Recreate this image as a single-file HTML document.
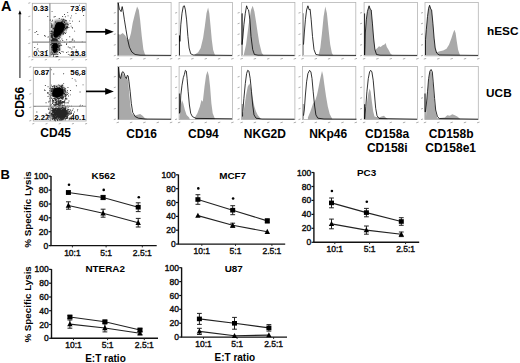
<!DOCTYPE html>
<html><head><meta charset="utf-8"><style>
html,body{margin:0;padding:0;background:#fff;}
body{width:520px;height:363px;overflow:hidden;}
svg{display:block;font-family:"Liberation Sans", sans-serif;}
</style></head><body>
<svg width="520" height="363" viewBox="0 0 520 363">
<rect width="520" height="363" fill="#fff"/>
<text x="1" y="10.9" font-size="14.5" font-weight="bold" text-anchor="start" fill="#000" >A</text>
<text x="0.5" y="178.6" font-size="13" font-weight="bold" text-anchor="start" fill="#000" >B</text>
<line x1="19.9" y1="78" x2="19.9" y2="13" stroke="#555" stroke-width="1.4"/>
<polygon points="19.9,10.2 18.3,14.2 21.5,14.2" fill="#000"/>
<text x="0" y="0" font-size="12" font-weight="bold" text-anchor="start" fill="#000" transform="translate(24,117.5) rotate(-90)">CD56</text>
<text x="40.3" y="137" font-size="12" font-weight="bold" text-anchor="start" fill="#000" >CD45</text>
<defs><filter id="bl" x="-20%" y="-20%" width="140%" height="140%"><feGaussianBlur stdDeviation="0.7"/></filter><filter id="bl2" x="-20%" y="-20%" width="140%" height="140%"><feGaussianBlur stdDeviation="1.2"/></filter></defs>
<line x1="28.3" y1="57" x2="30.3" y2="56.4" stroke="#999" stroke-width="0.8"/><line x1="31.3" y1="60" x2="33.3" y2="59.4" stroke="#999" stroke-width="0.8"/><line x1="28.3" y1="43.6" x2="30.3" y2="43" stroke="#999" stroke-width="0.8"/><line x1="44.8" y1="60" x2="46.8" y2="59.4" stroke="#999" stroke-width="0.8"/><line x1="28.3" y1="30.1" x2="30.3" y2="29.5" stroke="#999" stroke-width="0.8"/><line x1="58.2" y1="60" x2="60.2" y2="59.4" stroke="#999" stroke-width="0.8"/><line x1="28.3" y1="16.7" x2="30.3" y2="16.1" stroke="#999" stroke-width="0.8"/><line x1="71.6" y1="60" x2="73.6" y2="59.4" stroke="#999" stroke-width="0.8"/><line x1="28.3" y1="3.3" x2="30.3" y2="2.7" stroke="#999" stroke-width="0.8"/><line x1="85.1" y1="60" x2="87.1" y2="59.4" stroke="#999" stroke-width="0.8"/>
<rect x="32.3" y="3.3" width="53.8" height="53.7" fill="#fff" stroke="#aaa" stroke-width="0.8"/>
<polygon points="55,20 63,19.5 67.5,22.5 67,28 63,34 58,39.5 56,41 52,40 51.5,33 52.5,26" fill="#000" fill-opacity="0.45" filter="url(#bl2)"/>
<polygon points="51.5,41 59.5,42 60,48 58,54 52,55 51,48" fill="#000" fill-opacity="0.4" filter="url(#bl2)"/>
<polygon points="56.6,22.6 62.1,21.9 64.6,24.2 64.6,27.3 62.9,30.9 59.8,34.8 57,36.8 55.3,37.8 54,37 53.6,33.4 54.2,28.5 55.2,25" fill="#000" filter="url(#bl)"/>
<polygon points="53.4,43.2 57.4,43.6 57.9,46.7 56.9,50.3 55.3,52.8 53.9,53.2 52.9,50.3 52.6,45.5" fill="#000" filter="url(#bl)"/>
<path d="M58.4 32.6h.9v.9h-.9zM58.6 28.9h.9v.9h-.9zM55.6 31.6h.9v.9h-.9zM64.2 27.7h.9v.9h-.9zM63.9 27.2h.9v.9h-.9zM61.2 29h.9v.9h-.9zM52.5 38.8h.9v.9h-.9zM61.6 30h.9v.9h-.9zM52.4 27.4h.9v.9h-.9zM55.8 30.4h.9v.9h-.9zM60.8 28.3h.9v.9h-.9zM61.7 25h.9v.9h-.9zM60.8 30.2h.9v.9h-.9zM56.7 39.2h.9v.9h-.9zM61.8 32.9h.9v.9h-.9zM56.9 28.3h.9v.9h-.9zM58.1 30.2h.9v.9h-.9zM62.2 28.5h.9v.9h-.9zM57.6 26.8h.9v.9h-.9zM57.3 36.6h.9v.9h-.9zM56.1 33.2h.9v.9h-.9zM61.3 21.5h.9v.9h-.9zM59.7 35.1h.9v.9h-.9zM51 34.7h.9v.9h-.9zM59.1 26.3h.9v.9h-.9zM61.6 27.6h.9v.9h-.9zM53.3 38h.9v.9h-.9zM62.3 31.5h.9v.9h-.9zM65.6 26.3h.9v.9h-.9zM60 23.4h.9v.9h-.9zM62.1 24.8h.9v.9h-.9zM57.6 25.4h.9v.9h-.9zM55.4 30.4h.9v.9h-.9zM64.9 16.3h.9v.9h-.9zM53.4 35.4h.9v.9h-.9zM65.6 27.3h.9v.9h-.9zM51.5 24.7h.9v.9h-.9zM61 25.1h.9v.9h-.9zM54.8 37.5h.9v.9h-.9zM64.1 26.6h.9v.9h-.9zM60.5 30.6h.9v.9h-.9zM66.2 27h.9v.9h-.9zM61.7 30.2h.9v.9h-.9zM52.9 40.3h.9v.9h-.9zM63.5 28.7h.9v.9h-.9zM51.2 33.2h.9v.9h-.9zM63 18.8h.9v.9h-.9zM58.7 34.6h.9v.9h-.9zM54 40.9h.9v.9h-.9zM61.8 27h.9v.9h-.9zM60.9 31.3h.9v.9h-.9zM60 34.1h.9v.9h-.9zM56.7 29.9h.9v.9h-.9zM63.9 26.2h.9v.9h-.9zM55.8 36.6h.9v.9h-.9zM65.7 22.7h.9v.9h-.9zM53.7 33.5h.9v.9h-.9zM58.9 28.7h.9v.9h-.9zM65.4 20.3h.9v.9h-.9zM64.8 19.8h.9v.9h-.9zM56.2 34.9h.9v.9h-.9zM64.2 29.6h.9v.9h-.9zM60.9 29h.9v.9h-.9zM60.1 31.5h.9v.9h-.9zM58.8 31.3h.9v.9h-.9zM61.9 27.6h.9v.9h-.9zM62.7 29.5h.9v.9h-.9zM67.9 24.3h.9v.9h-.9zM57.7 29.3h.9v.9h-.9zM59.4 33.6h.9v.9h-.9zM58.1 32.3h.9v.9h-.9zM67.2 12.2h.9v.9h-.9zM54.8 34.3h.9v.9h-.9zM61.2 29.2h.9v.9h-.9zM57.7 33.8h.9v.9h-.9zM60.7 26.3h.9v.9h-.9zM69.7 23h.9v.9h-.9zM57.2 30.9h.9v.9h-.9zM58.6 30h.9v.9h-.9zM48 36.4h.9v.9h-.9zM63.7 21h.9v.9h-.9zM59.2 33.9h.9v.9h-.9zM63.1 33.2h.9v.9h-.9zM52.4 33.6h.9v.9h-.9zM58.1 33.4h.9v.9h-.9zM64.1 14.1h.9v.9h-.9zM64.1 19.5h.9v.9h-.9zM62.4 20.7h.9v.9h-.9zM60.2 34.2h.9v.9h-.9zM58.9 30.8h.9v.9h-.9zM62.8 27.5h.9v.9h-.9zM59.1 36.5h.9v.9h-.9zM63.9 24.7h.9v.9h-.9zM71 15.4h.9v.9h-.9zM63.3 25.3h.9v.9h-.9zM60.1 32.2h.9v.9h-.9zM60.4 31.6h.9v.9h-.9zM53.1 27.9h.9v.9h-.9zM62.1 23.2h.9v.9h-.9zM55.2 26.4h.9v.9h-.9zM64.8 28.6h.9v.9h-.9zM65.7 20.5h.9v.9h-.9zM59.5 24.5h.9v.9h-.9zM62.7 34h.9v.9h-.9zM55.8 39.3h.9v.9h-.9zM63.6 25.5h.9v.9h-.9zM51.2 42.2h.9v.9h-.9zM59.1 27.2h.9v.9h-.9zM61.2 30h.9v.9h-.9zM65.8 20.1h.9v.9h-.9zM64.3 32.3h.9v.9h-.9zM65.6 23.9h.9v.9h-.9zM56.4 36.4h.9v.9h-.9zM60 29.7h.9v.9h-.9zM65.5 23.6h.9v.9h-.9zM49.9 35.4h.9v.9h-.9zM51.7 39.2h.9v.9h-.9zM60.8 25.8h.9v.9h-.9zM59.5 33.2h.9v.9h-.9zM59.8 35.1h.9v.9h-.9zM59.2 34.3h.9v.9h-.9zM65.8 31.7h.9v.9h-.9zM56.7 35.6h.9v.9h-.9zM51.6 30.9h.9v.9h-.9zM51.3 40.7h.9v.9h-.9zM54.3 33.5h.9v.9h-.9zM58.7 30h.9v.9h-.9zM57 32.5h.9v.9h-.9zM67 23.8h.9v.9h-.9zM61.7 32.2h.9v.9h-.9zM58.7 24.6h.9v.9h-.9zM57.2 36.1h.9v.9h-.9zM52.6 32.3h.9v.9h-.9zM63.7 29.7h.9v.9h-.9zM59.5 33h.9v.9h-.9zM60.2 23.8h.9v.9h-.9zM52.9 31.8h.9v.9h-.9zM63.4 24h.9v.9h-.9zM55.7 29.1h.9v.9h-.9zM53.1 34h.9v.9h-.9zM54.5 35h.9v.9h-.9zM49.6 38.7h.9v.9h-.9zM56.8 23.1h.9v.9h-.9zM62.5 25.9h.9v.9h-.9zM50.1 33h.9v.9h-.9zM60.7 26.5h.9v.9h-.9zM62.8 30.2h.9v.9h-.9zM62.3 28.7h.9v.9h-.9zM65.1 28h.9v.9h-.9zM61.4 18.8h.9v.9h-.9zM63.3 32.3h.9v.9h-.9zM58.3 28.4h.9v.9h-.9zM67.6 15.4h.9v.9h-.9zM61.5 38.6h.9v.9h-.9zM55.6 35.6h.9v.9h-.9zM67.4 22.7h.9v.9h-.9zM61.9 31.6h.9v.9h-.9zM55.7 32.1h.9v.9h-.9zM60.7 32.2h.9v.9h-.9zM59.4 28.8h.9v.9h-.9zM55.2 31.3h.9v.9h-.9zM63.2 27h.9v.9h-.9zM55.9 28.6h.9v.9h-.9zM70.7 25.7h.9v.9h-.9zM62.2 16h.9v.9h-.9zM62.1 29.6h.9v.9h-.9zM66.6 25.8h.9v.9h-.9zM59.2 32h.9v.9h-.9zM51.3 40.5h.9v.9h-.9zM60.9 25.3h.9v.9h-.9zM65.1 33.1h.9v.9h-.9zM53.6 31.2h.9v.9h-.9zM60.7 29.3h.9v.9h-.9zM57.8 26.5h.9v.9h-.9zM68.4 27.1h.9v.9h-.9zM54.5 27.5h.9v.9h-.9zM66.7 28.2h.9v.9h-.9zM67.1 27.1h.9v.9h-.9zM55.8 33.5h.9v.9h-.9zM50.4 33.3h.9v.9h-.9zM59.3 32h.9v.9h-.9zM56.4 31.4h.9v.9h-.9zM61.4 29.6h.9v.9h-.9zM62.2 28.3h.9v.9h-.9zM58.1 34h.9v.9h-.9zM59.7 25.7h.9v.9h-.9zM56.9 31.6h.9v.9h-.9zM59 30.6h.9v.9h-.9zM59.5 30.3h.9v.9h-.9zM58.9 24.4h.9v.9h-.9zM61.3 32.7h.9v.9h-.9zM61.3 27.2h.9v.9h-.9zM61.4 23.8h.9v.9h-.9zM51.5 36h.9v.9h-.9zM55.6 35.8h.9v.9h-.9zM54.9 21.5h.9v.9h-.9zM55.1 39.9h.9v.9h-.9zM57.9 24.7h.9v.9h-.9zM56.3 34.3h.9v.9h-.9zM61.6 28.6h.9v.9h-.9zM65.7 27.7h.9v.9h-.9zM59.4 32.2h.9v.9h-.9zM66.4 28.3h.9v.9h-.9zM63.8 21.4h.9v.9h-.9zM58.9 33.2h.9v.9h-.9zM58.3 35.2h.9v.9h-.9zM62 31.5h.9v.9h-.9zM58.6 41.4h.9v.9h-.9zM64.7 24.5h.9v.9h-.9zM59.9 40.6h.9v.9h-.9zM58.1 34.5h.9v.9h-.9zM63.6 26.3h.9v.9h-.9zM54.6 34.2h.9v.9h-.9zM61 33.3h.9v.9h-.9zM62.8 27h.9v.9h-.9zM63.1 29.1h.9v.9h-.9zM60.4 29.1h.9v.9h-.9zM58.5 33.3h.9v.9h-.9zM55.1 30.2h.9v.9h-.9zM59.5 23h.9v.9h-.9zM57.7 22.1h.9v.9h-.9zM56.6 34.3h.9v.9h-.9zM61.9 27.4h.9v.9h-.9zM58.5 24h.9v.9h-.9zM67.2 25.7h.9v.9h-.9zM64.1 22h.9v.9h-.9zM58.7 22.1h.9v.9h-.9zM62.8 31h.9v.9h-.9zM51.5 35.5h.9v.9h-.9zM62.1 19.7h.9v.9h-.9zM51.8 30.8h.9v.9h-.9zM56.9 25.4h.9v.9h-.9zM59.6 30.5h.9v.9h-.9zM62.2 30.5h.9v.9h-.9zM65.8 29.7h.9v.9h-.9zM54 31.6h.9v.9h-.9zM55 28.3h.9v.9h-.9zM59.2 29.8h.9v.9h-.9zM61.6 20.9h.9v.9h-.9zM54.3 33.5h.9v.9h-.9zM58.7 28.8h.9v.9h-.9zM59.2 26.4h.9v.9h-.9zM62.4 28.7h.9v.9h-.9zM59.1 26.8h.9v.9h-.9zM58.8 18.1h.9v.9h-.9zM55.4 32.9h.9v.9h-.9zM53.2 35.3h.9v.9h-.9zM60.1 23h.9v.9h-.9zM58.4 28.9h.9v.9h-.9zM61.4 30.7h.9v.9h-.9zM59.3 25.9h.9v.9h-.9zM58.9 29.7h.9v.9h-.9zM62.6 28.4h.9v.9h-.9zM56.5 25.9h.9v.9h-.9zM57.9 27.5h.9v.9h-.9zM54.8 32.7h.9v.9h-.9zM57.4 31.6h.9v.9h-.9zM61.7 26h.9v.9h-.9zM69.3 20.4h.9v.9h-.9zM64.1 26.4h.9v.9h-.9zM57.9 38h.9v.9h-.9zM53 48.5h.9v.9h-.9zM55.8 52.6h.9v.9h-.9zM57 51.3h.9v.9h-.9zM56.3 46.9h.9v.9h-.9zM56.3 43.2h.9v.9h-.9zM58.1 43.4h.9v.9h-.9zM55.6 56h.9v.9h-.9zM54.4 47.6h.9v.9h-.9zM58 47.6h.9v.9h-.9zM52.9 48.5h.9v.9h-.9zM56.5 50.3h.9v.9h-.9zM53 54.5h.9v.9h-.9zM59.3 47.6h.9v.9h-.9zM55.7 45.8h.9v.9h-.9zM58.7 44.7h.9v.9h-.9zM56.8 45.6h.9v.9h-.9zM53.2 50.4h.9v.9h-.9zM58.5 47.5h.9v.9h-.9zM53.2 50.7h.9v.9h-.9zM54.9 48.7h.9v.9h-.9zM59 52h.9v.9h-.9zM55 50.6h.9v.9h-.9zM53.3 47.3h.9v.9h-.9zM50.5 54.6h.9v.9h-.9zM58.6 42.6h.9v.9h-.9zM51.1 41h.9v.9h-.9zM58.1 45.7h.9v.9h-.9zM54.8 46.2h.9v.9h-.9zM54.7 43.1h.9v.9h-.9zM55.1 41.7h.9v.9h-.9zM54.8 48.7h.9v.9h-.9zM56.2 46.6h.9v.9h-.9zM52.7 48.1h.9v.9h-.9zM53.7 53.8h.9v.9h-.9zM57 47h.9v.9h-.9zM53.8 44.7h.9v.9h-.9zM52.6 46.1h.9v.9h-.9zM55.8 49.6h.9v.9h-.9zM56.5 55.9h.9v.9h-.9zM53.2 47.6h.9v.9h-.9zM62.3 40h.9v.9h-.9zM53.6 48.2h.9v.9h-.9zM55.4 49.1h.9v.9h-.9zM54.4 49h.9v.9h-.9zM55.1 50.6h.9v.9h-.9zM50.1 44h.9v.9h-.9zM55 43.4h.9v.9h-.9zM52.3 50h.9v.9h-.9zM53.3 50h.9v.9h-.9zM56.9 48.7h.9v.9h-.9zM56.3 47.1h.9v.9h-.9zM51.3 47.4h.9v.9h-.9zM56.2 45.4h.9v.9h-.9zM54.7 50.5h.9v.9h-.9zM52.7 50.1h.9v.9h-.9zM59.8 45.3h.9v.9h-.9zM55.4 46.9h.9v.9h-.9zM59 48.8h.9v.9h-.9zM57.3 44.7h.9v.9h-.9zM55 47.5h.9v.9h-.9zM50.4 53.3h.9v.9h-.9zM57.3 40.5h.9v.9h-.9zM56.9 47h.9v.9h-.9zM56.2 49h.9v.9h-.9zM51.1 46.7h.9v.9h-.9zM58.9 45.2h.9v.9h-.9zM52.3 42.1h.9v.9h-.9zM51.8 48.8h.9v.9h-.9zM59.4 49.2h.9v.9h-.9zM55.6 56.4h.9v.9h-.9zM53.6 44.8h.9v.9h-.9zM56.4 49.7h.9v.9h-.9zM52.4 42.8h.9v.9h-.9zM55.8 48.5h.9v.9h-.9zM51.6 46.7h.9v.9h-.9zM53.6 49.3h.9v.9h-.9zM54.7 47.2h.9v.9h-.9zM54.1 51.7h.9v.9h-.9zM58.6 46h.9v.9h-.9zM57.2 44.5h.9v.9h-.9zM55.2 50.5h.9v.9h-.9zM58.9 46h.9v.9h-.9zM54.8 48.3h.9v.9h-.9zM51.1 47.6h.9v.9h-.9zM53.2 49h.9v.9h-.9zM52.1 39.6h.9v.9h-.9zM55.1 48.5h.9v.9h-.9zM53.6 51.1h.9v.9h-.9zM54.3 45.1h.9v.9h-.9zM56.2 41.2h.9v.9h-.9zM53.2 47.4h.9v.9h-.9zM57.2 46.8h.9v.9h-.9zM55.8 44.9h.9v.9h-.9zM55.8 54.2h.9v.9h-.9zM53.3 47.6h.9v.9h-.9zM55.5 51.6h.9v.9h-.9zM51.8 39.1h.9v.9h-.9zM56.6 50.7h.9v.9h-.9zM55.5 48.5h.9v.9h-.9zM57.4 49h.9v.9h-.9zM59.3 42.5h.9v.9h-.9zM54 33.7h.9v.9h-.9zM57.1 46h.9v.9h-.9zM57.4 56.1h.9v.9h-.9zM55 46.5h.9v.9h-.9zM53.7 44.1h.9v.9h-.9zM53.4 50.1h.9v.9h-.9zM55.1 47.8h.9v.9h-.9zM54.5 51.2h.9v.9h-.9zM56.3 46.9h.9v.9h-.9zM56.7 46.9h.9v.9h-.9zM52 53.3h.9v.9h-.9zM56.2 43.7h.9v.9h-.9zM57.8 48.9h.9v.9h-.9zM50.9 53.9h.9v.9h-.9zM55.9 51.1h.9v.9h-.9zM55.5 46.9h.9v.9h-.9zM51 51.4h.9v.9h-.9zM55.1 46.4h.9v.9h-.9zM55.9 47.8h.9v.9h-.9zM56.8 46h.9v.9h-.9zM54.9 38.9h.9v.9h-.9zM53.9 50.2h.9v.9h-.9zM58.5 46h.9v.9h-.9zM54.7 53.8h.9v.9h-.9zM54.2 50.4h.9v.9h-.9zM59.4 47.7h.9v.9h-.9zM58.2 44.7h.9v.9h-.9zM55.5 47.2h.9v.9h-.9zM55.3 52h.9v.9h-.9zM61.2 44.8h.9v.9h-.9zM53.5 49.5h.9v.9h-.9zM52.3 49.5h.9v.9h-.9zM56.5 46.4h.9v.9h-.9zM56.4 41.3h.9v.9h-.9zM55.9 37.1h.9v.9h-.9zM53.2 39.3h.9v.9h-.9zM53.8 42.4h.9v.9h-.9zM54.6 39.6h.9v.9h-.9zM55.5 44h.9v.9h-.9zM54.5 41.3h.9v.9h-.9zM56.7 41.1h.9v.9h-.9zM52.2 46h.9v.9h-.9zM58.5 36.1h.9v.9h-.9zM54.4 41.4h.9v.9h-.9zM56.2 42h.9v.9h-.9zM54 38.2h.9v.9h-.9zM54.7 42.8h.9v.9h-.9zM52.5 38.2h.9v.9h-.9zM54.5 36.2h.9v.9h-.9zM54 39.5h.9v.9h-.9zM55.3 39h.9v.9h-.9zM52.9 39.6h.9v.9h-.9zM54.4 39h.9v.9h-.9zM54.5 42.2h.9v.9h-.9zM56.6 44.3h.9v.9h-.9zM53.1 39.6h.9v.9h-.9zM50 44.7h.9v.9h-.9zM53.2 40.4h.9v.9h-.9zM55.4 37.5h.9v.9h-.9zM55.3 40.4h.9v.9h-.9zM51.2 41.1h.9v.9h-.9zM56.7 36.4h.9v.9h-.9zM56 41h.9v.9h-.9zM55.4 41.5h.9v.9h-.9zM56.8 40h.9v.9h-.9zM56.1 39.6h.9v.9h-.9zM55.8 38.7h.9v.9h-.9zM54.3 44.3h.9v.9h-.9zM55.3 40.2h.9v.9h-.9zM52.4 38.8h.9v.9h-.9zM54.8 42.6h.9v.9h-.9zM55.3 41.7h.9v.9h-.9zM54.4 43.5h.9v.9h-.9zM53.8 39.3h.9v.9h-.9zM56.1 40.6h.9v.9h-.9zM54 39.2h.9v.9h-.9zM54 41.9h.9v.9h-.9zM55.1 37.8h.9v.9h-.9zM55.3 40.9h.9v.9h-.9zM52.7 42.2h.9v.9h-.9zM54 39.8h.9v.9h-.9zM55.9 43.4h.9v.9h-.9zM53.3 41.5h.9v.9h-.9zM52.9 45.6h.9v.9h-.9zM53.6 43.1h.9v.9h-.9zM53.3 42.3h.9v.9h-.9zM58.5 34.9h.9v.9h-.9zM53.7 41.6h.9v.9h-.9zM54.3 39h.9v.9h-.9zM58.4 40.7h.9v.9h-.9zM51.5 42.4h.9v.9h-.9zM51.4 43h.9v.9h-.9zM53.5 40.8h.9v.9h-.9zM56.8 40.8h.9v.9h-.9zM52 36.8h.9v.9h-.9zM56.6 42.1h.9v.9h-.9zM53 42.4h.9v.9h-.9zM55.4 41.9h.9v.9h-.9zM50.4 39.8h.9v.9h-.9zM56.1 42.1h.9v.9h-.9zM56.1 35.1h.9v.9h-.9zM54.8 41.6h.9v.9h-.9zM59.1 38.4h.9v.9h-.9zM53.9 40.6h.9v.9h-.9zM56.1 39.5h.9v.9h-.9zM56.6 38.8h.9v.9h-.9zM55 39.3h.9v.9h-.9zM54.8 39h.9v.9h-.9zM51.6 42.9h.9v.9h-.9zM55 39.3h.9v.9h-.9zM54.9 42.7h.9v.9h-.9zM52.7 40.3h.9v.9h-.9zM55.5 41.7h.9v.9h-.9zM53.9 35.9h.9v.9h-.9zM56.7 41.2h.9v.9h-.9zM54.5 39.9h.9v.9h-.9zM55 39.6h.9v.9h-.9zM52.7 38.9h.9v.9h-.9zM53.4 39.2h.9v.9h-.9zM52.4 41.9h.9v.9h-.9zM52.1 42h.9v.9h-.9zM52.7 41.3h.9v.9h-.9zM57 40.9h.9v.9h-.9zM53.2 40.6h.9v.9h-.9zM51.6 24.4h.9v.9h-.9zM50.9 41.5h.9v.9h-.9zM51 40.7h.9v.9h-.9zM52.2 46.9h.9v.9h-.9zM52.4 45.3h.9v.9h-.9zM51.2 39.8h.9v.9h-.9zM51.2 37.2h.9v.9h-.9zM51.3 24.5h.9v.9h-.9zM51.2 39.8h.9v.9h-.9zM50.5 39.8h.9v.9h-.9zM52 38.5h.9v.9h-.9zM53.6 16.5h.9v.9h-.9zM51.3 23.6h.9v.9h-.9zM49 41.2h.9v.9h-.9zM52 37.3h.9v.9h-.9zM52.1 19.8h.9v.9h-.9zM52.4 43.3h.9v.9h-.9zM51.5 34.7h.9v.9h-.9zM52.1 35.6h.9v.9h-.9zM51.7 35.4h.9v.9h-.9zM49.3 39.7h.9v.9h-.9zM51.7 46.8h.9v.9h-.9zM50.6 39.7h.9v.9h-.9zM52.1 41.3h.9v.9h-.9zM50.6 22.7h.9v.9h-.9zM52.4 53.8h.9v.9h-.9zM52.4 47.3h.9v.9h-.9zM50.9 33.6h.9v.9h-.9zM52.4 31.8h.9v.9h-.9zM49.7 31h.9v.9h-.9zM50.8 33.4h.9v.9h-.9zM51.7 33.3h.9v.9h-.9zM52.8 39.3h.9v.9h-.9zM50.4 51.8h.9v.9h-.9zM50.9 42h.9v.9h-.9zM51.5 37.2h.9v.9h-.9zM51.8 33.8h.9v.9h-.9zM49.7 20.1h.9v.9h-.9zM50.2 33.2h.9v.9h-.9zM51.5 40.5h.9v.9h-.9zM52.1 41.1h.9v.9h-.9zM50.7 33.6h.9v.9h-.9zM49.4 38.5h.9v.9h-.9zM52 44.8h.9v.9h-.9zM51.4 38.4h.9v.9h-.9zM52.4 40.1h.9v.9h-.9zM52.2 45.2h.9v.9h-.9zM51.7 51.8h.9v.9h-.9zM50.9 36.8h.9v.9h-.9zM50.7 32.8h.9v.9h-.9zM53.1 55.8h.9v.9h-.9zM51.5 45.1h.9v.9h-.9zM52.7 47.3h.9v.9h-.9zM52.7 28.6h.9v.9h-.9zM50.9 44.1h.9v.9h-.9zM52.9 40.9h.9v.9h-.9zM50.6 36.8h.9v.9h-.9zM66.9 26.6h.9v.9h-.9zM81.8 41.4h.9v.9h-.9zM46.7 50.1h.9v.9h-.9zM36.2 31.1h.9v.9h-.9zM54.7 16.1h.9v.9h-.9zM37 43.7h.9v.9h-.9zM34.6 32.1h.9v.9h-.9zM82 11.3h.9v.9h-.9zM44.2 35h.9v.9h-.9zM59.9 36.7h.9v.9h-.9zM75.5 12.9h.9v.9h-.9zM49.8 19.3h.9v.9h-.9zM36.5 49.4h.9v.9h-.9zM73.9 40.5h.9v.9h-.9zM34.3 47.1h.9v.9h-.9zM72 27.7h.9v.9h-.9zM71.8 27.1h.9v.9h-.9zM45.5 9.4h.9v.9h-.9zM45.8 6h.9v.9h-.9zM51.1 42.2h.9v.9h-.9zM69.5 47.1h.9v.9h-.9zM70.3 17.6h.9v.9h-.9zM62.2 26.2h.9v.9h-.9zM74.2 30.7h.9v.9h-.9zM47.5 36.7h.9v.9h-.9zM83.2 15.1h.9v.9h-.9zM78.9 4.8h.9v.9h-.9zM47.3 16h.9v.9h-.9zM71.9 52.2h.9v.9h-.9zM72.1 20.7h.9v.9h-.9zM78.9 20.8h.9v.9h-.9zM46.2 50.3h.9v.9h-.9zM66.2 39.3h.9v.9h-.9zM67.9 53.9h.9v.9h-.9zM57.9 46.8h.9v.9h-.9zM69.6 47.7h.9v.9h-.9zM56.3 41h.9v.9h-.9zM63.1 19.7h.9v.9h-.9zM44.8 35.8h.9v.9h-.9zM38 50.5h.9v.9h-.9zM41.4 5.4h.9v.9h-.9zM39.4 51.4h.9v.9h-.9zM51.6 11.2h.9v.9h-.9zM35.5 6.1h.9v.9h-.9zM69.3 36.3h.9v.9h-.9zM69.5 41.6h.9v.9h-.9zM37.4 34.1h.9v.9h-.9zM52.5 45.7h.9v.9h-.9zM75.8 49.5h.9v.9h-.9zM37.4 48.3h.9v.9h-.9zM72.9 54.1h.9v.9h-.9zM53.6 41.5h.9v.9h-.9zM53.7 38.6h.9v.9h-.9zM71.3 51.8h.9v.9h-.9zM66.2 52h.9v.9h-.9zM66.2 42.9h.9v.9h-.9zM53.4 39.7h.9v.9h-.9zM69.2 41.5h.9v.9h-.9zM58.7 45.2h.9v.9h-.9zM51.5 42.4h.9v.9h-.9zM57.8 50.2h.9v.9h-.9zM59.8 43.5h.9v.9h-.9zM74.1 46.6h.9v.9h-.9zM71.4 48.5h.9v.9h-.9zM51.7 45h.9v.9h-.9zM61.5 51.1h.9v.9h-.9zM59.3 50h.9v.9h-.9zM63.9 41.7h.9v.9h-.9zM71.7 39.5h.9v.9h-.9zM70.7 40.9h.9v.9h-.9zM51 41.4h.9v.9h-.9zM69.3 54.6h.9v.9h-.9zM51.1 46.3h.9v.9h-.9zM62.8 51.5h.9v.9h-.9zM55.4 46.4h.9v.9h-.9zM59.3 52.1h.9v.9h-.9zM57.3 54h.9v.9h-.9zM57.8 41.7h.9v.9h-.9zM67.8 46.5h.9v.9h-.9zM53.6 48.8h.9v.9h-.9zM52.9 51.4h.9v.9h-.9zM67.7 51.4h.9v.9h-.9zM66.1 44h.9v.9h-.9zM60.6 44.7h.9v.9h-.9zM72.4 39.5h.9v.9h-.9zM72.3 38.4h.9v.9h-.9zM55.9 42.5h.9v.9h-.9zM72.6 46.5h.9v.9h-.9zM60.1 53h.9v.9h-.9zM56.6 45.8h.9v.9h-.9zM51.8 46.4h.9v.9h-.9zM52.4 42.6h.9v.9h-.9zM51.4 31.4h.9v.9h-.9zM50.9 49.5h.9v.9h-.9zM52.2 46h.9v.9h-.9zM50.9 35.4h.9v.9h-.9zM52.4 40.3h.9v.9h-.9zM50.8 36.2h.9v.9h-.9zM52.7 28.3h.9v.9h-.9zM51 30.6h.9v.9h-.9zM52.3 49.5h.9v.9h-.9zM50.9 25.5h.9v.9h-.9zM51.1 31.4h.9v.9h-.9zM51.8 25.6h.9v.9h-.9zM51.3 26.6h.9v.9h-.9zM52.9 45.5h.9v.9h-.9zM50.8 53.7h.9v.9h-.9zM50.8 33.4h.9v.9h-.9zM53 47.8h.9v.9h-.9zM52.3 35.2h.9v.9h-.9zM51 42.3h.9v.9h-.9zM50.8 27.2h.9v.9h-.9zM51.5 21.2h.9v.9h-.9zM51.5 47.7h.9v.9h-.9zM52.2 37.5h.9v.9h-.9z" fill="#000" fill-opacity="0.8"/>
<line x1="49.9" y1="3.3" x2="49.9" y2="57" stroke="#888" stroke-width="1.1"/>
<line x1="32.3" y1="42.1" x2="86.1" y2="42.1" stroke="#888" stroke-width="1.1"/>
<text x="33.2" y="10.6" font-size="7.8" font-weight="bold" text-anchor="start" fill="#000" >0.33</text>
<text x="85.5" y="10.6" font-size="7.8" font-weight="bold" text-anchor="end" fill="#000" >73.6</text>
<text x="33.2" y="55.8" font-size="7.8" font-weight="bold" text-anchor="start" fill="#000" >0.31</text>
<text x="85.5" y="55.8" font-size="7.8" font-weight="bold" text-anchor="end" fill="#000" >25.8</text>
<line x1="29.3" y1="121" x2="31.3" y2="120.4" stroke="#999" stroke-width="0.8"/><line x1="32.3" y1="124" x2="34.3" y2="123.4" stroke="#999" stroke-width="0.8"/><line x1="29.3" y1="107.6" x2="31.3" y2="107" stroke="#999" stroke-width="0.8"/><line x1="45.5" y1="124" x2="47.5" y2="123.4" stroke="#999" stroke-width="0.8"/><line x1="29.3" y1="94.2" x2="31.3" y2="93.6" stroke="#999" stroke-width="0.8"/><line x1="58.7" y1="124" x2="60.7" y2="123.4" stroke="#999" stroke-width="0.8"/><line x1="29.3" y1="80.7" x2="31.3" y2="80.1" stroke="#999" stroke-width="0.8"/><line x1="71.9" y1="124" x2="73.9" y2="123.4" stroke="#999" stroke-width="0.8"/><line x1="29.3" y1="67.3" x2="31.3" y2="66.7" stroke="#999" stroke-width="0.8"/><line x1="85.1" y1="124" x2="87.1" y2="123.4" stroke="#999" stroke-width="0.8"/>
<rect x="33.3" y="67.3" width="52.8" height="53.7" fill="#fff" stroke="#aaa" stroke-width="0.8"/>
<polygon points="54,86 61.5,85.5 65.5,88.5 65.5,94 61.5,98 55,98.5 51.5,95.5 51.5,90" fill="#000" fill-opacity="0.35" filter="url(#bl2)"/>
<polygon points="51.5,108 67,108 68,112 67,118.5 51.5,119" fill="#000" fill-opacity="0.3" filter="url(#bl2)"/>
<polygon points="54.9,88 59.8,87.4 63,89.6 63.6,92.5 61.4,96 57.3,97.6 52.8,96 52.2,93.2 53.3,90.2" fill="#000" filter="url(#bl)"/>
<path d="M55 89.6h.9v.9h-.9zM61.4 95.8h.9v.9h-.9zM52.6 95.4h.9v.9h-.9zM61.6 90.4h.9v.9h-.9zM52.1 89.8h.9v.9h-.9zM55.5 93.4h.9v.9h-.9zM56.6 85.6h.9v.9h-.9zM58.9 87.2h.9v.9h-.9zM61.6 88.3h.9v.9h-.9zM55.2 89.5h.9v.9h-.9zM55.8 96.6h.9v.9h-.9zM61.4 94.3h.9v.9h-.9zM59.3 87.2h.9v.9h-.9zM55.9 90.5h.9v.9h-.9zM54.1 94h.9v.9h-.9zM55 90h.9v.9h-.9zM53.8 85.5h.9v.9h-.9zM60.4 96.7h.9v.9h-.9zM58.7 89.1h.9v.9h-.9zM47.2 92.9h.9v.9h-.9zM62.9 93.3h.9v.9h-.9zM61.7 97.2h.9v.9h-.9zM62.5 90.8h.9v.9h-.9zM62.2 94.9h.9v.9h-.9zM51.9 91h.9v.9h-.9zM52.3 91.9h.9v.9h-.9zM60.3 88.8h.9v.9h-.9zM49.8 96.6h.9v.9h-.9zM59.5 97.2h.9v.9h-.9zM52.7 95.8h.9v.9h-.9zM66.3 98.9h.9v.9h-.9zM57.2 93.2h.9v.9h-.9zM57.4 95.6h.9v.9h-.9zM62.2 92.6h.9v.9h-.9zM52.6 94.7h.9v.9h-.9zM56.1 94.4h.9v.9h-.9zM59.1 97.7h.9v.9h-.9zM62.6 90.8h.9v.9h-.9zM59.4 98.1h.9v.9h-.9zM55.9 93.7h.9v.9h-.9zM62.8 96.4h.9v.9h-.9zM60.1 87.9h.9v.9h-.9zM53 93.1h.9v.9h-.9zM59.5 100.7h.9v.9h-.9zM54.6 96.1h.9v.9h-.9zM61.1 86.8h.9v.9h-.9zM54.7 92.8h.9v.9h-.9zM56 91.8h.9v.9h-.9zM59.9 89.6h.9v.9h-.9zM59.9 90.2h.9v.9h-.9zM55.8 94.1h.9v.9h-.9zM55.7 93.2h.9v.9h-.9zM64.4 92.4h.9v.9h-.9zM57.4 94.7h.9v.9h-.9zM56.5 95.9h.9v.9h-.9zM52.9 94.3h.9v.9h-.9zM56 89.7h.9v.9h-.9zM65.1 89.5h.9v.9h-.9zM65 94.5h.9v.9h-.9zM63.8 89.1h.9v.9h-.9zM62.8 97.1h.9v.9h-.9zM57.5 91.9h.9v.9h-.9zM67.8 92.9h.9v.9h-.9zM56.3 90.2h.9v.9h-.9zM59.8 93.4h.9v.9h-.9zM58.7 98h.9v.9h-.9zM56.7 93.9h.9v.9h-.9zM63.8 89h.9v.9h-.9zM62.2 98.3h.9v.9h-.9zM52.6 88.7h.9v.9h-.9zM53.8 86.2h.9v.9h-.9zM59.8 86.2h.9v.9h-.9zM60 97.1h.9v.9h-.9zM51.5 91.3h.9v.9h-.9zM50.3 94.9h.9v.9h-.9zM55.1 91.4h.9v.9h-.9zM58.2 94.1h.9v.9h-.9zM56.6 92.3h.9v.9h-.9zM55.8 92.7h.9v.9h-.9zM53.3 92.5h.9v.9h-.9zM50.3 90.7h.9v.9h-.9zM65.7 92.6h.9v.9h-.9zM53 93.1h.9v.9h-.9zM54.1 86.9h.9v.9h-.9zM55.1 94.7h.9v.9h-.9zM59.5 92h.9v.9h-.9zM54.3 88.7h.9v.9h-.9zM63.4 93.1h.9v.9h-.9zM54.2 85.3h.9v.9h-.9zM52.5 100.5h.9v.9h-.9zM53.4 92h.9v.9h-.9zM58.8 91.8h.9v.9h-.9zM56.9 87.8h.9v.9h-.9zM53.8 97.9h.9v.9h-.9zM55 95.1h.9v.9h-.9zM51.2 91.4h.9v.9h-.9zM59 95.7h.9v.9h-.9zM53.5 94.3h.9v.9h-.9zM59.5 89.9h.9v.9h-.9zM59.9 89.3h.9v.9h-.9zM54.8 92.2h.9v.9h-.9zM47.1 91.9h.9v.9h-.9zM54 87.5h.9v.9h-.9zM56.3 94.8h.9v.9h-.9zM56.4 96.5h.9v.9h-.9zM53.4 88h.9v.9h-.9zM64.2 93.6h.9v.9h-.9zM61.8 89.6h.9v.9h-.9zM61.2 93.2h.9v.9h-.9zM60.6 92.4h.9v.9h-.9zM62.8 90.2h.9v.9h-.9zM54.1 87.4h.9v.9h-.9zM62.6 89.9h.9v.9h-.9zM53.8 89.2h.9v.9h-.9zM56.2 88.1h.9v.9h-.9zM56.8 90.2h.9v.9h-.9zM55.8 89.1h.9v.9h-.9zM58.1 90.8h.9v.9h-.9zM58.5 93.1h.9v.9h-.9zM59.4 85.1h.9v.9h-.9zM55.9 89.7h.9v.9h-.9zM61.1 87.1h.9v.9h-.9zM55.1 91.3h.9v.9h-.9zM56.7 95.6h.9v.9h-.9zM56.2 95.5h.9v.9h-.9zM52.1 86.3h.9v.9h-.9zM62.9 93.7h.9v.9h-.9zM60 92.7h.9v.9h-.9zM59.9 88.3h.9v.9h-.9zM61.8 90.5h.9v.9h-.9zM61.9 92.6h.9v.9h-.9zM50.1 88.1h.9v.9h-.9zM62.5 91.8h.9v.9h-.9zM56.4 93.1h.9v.9h-.9zM56.3 90.5h.9v.9h-.9zM58.4 92.8h.9v.9h-.9zM64.1 92.5h.9v.9h-.9zM65.5 98.2h.9v.9h-.9zM64.9 95.8h.9v.9h-.9zM58.5 92.8h.9v.9h-.9zM57.4 89.9h.9v.9h-.9zM57.7 90.2h.9v.9h-.9zM64.6 94.1h.9v.9h-.9zM56.2 86h.9v.9h-.9zM57.8 90.9h.9v.9h-.9zM53.7 88.5h.9v.9h-.9zM49 94.2h.9v.9h-.9zM57.7 100.8h.9v.9h-.9zM57.9 91.8h.9v.9h-.9zM63.8 92.7h.9v.9h-.9zM58.7 91.1h.9v.9h-.9zM55.6 97.2h.9v.9h-.9zM62 98h.9v.9h-.9zM56.6 92.4h.9v.9h-.9zM54.5 95.5h.9v.9h-.9zM52.4 94.2h.9v.9h-.9zM62.4 97h.9v.9h-.9zM54.2 95.9h.9v.9h-.9zM55.1 89.8h.9v.9h-.9zM52.7 96.1h.9v.9h-.9zM64.6 90.3h.9v.9h-.9zM55 91.2h.9v.9h-.9zM68 95.6h.9v.9h-.9zM55.8 86.4h.9v.9h-.9zM55.3 96.2h.9v.9h-.9zM65.5 91.4h.9v.9h-.9zM55.2 90.6h.9v.9h-.9zM50.5 95.3h.9v.9h-.9zM53.7 95.8h.9v.9h-.9zM51.2 88.1h.9v.9h-.9zM59.2 89.8h.9v.9h-.9zM61.1 92.3h.9v.9h-.9zM53.3 94.4h.9v.9h-.9zM61.4 86h.9v.9h-.9zM65.3 93.9h.9v.9h-.9zM61 86.2h.9v.9h-.9zM55.1 91.1h.9v.9h-.9zM62.3 87.5h.9v.9h-.9zM54.5 85.6h.9v.9h-.9zM57 93.4h.9v.9h-.9zM51.3 90.3h.9v.9h-.9zM60 97.5h.9v.9h-.9zM60.7 91.3h.9v.9h-.9zM53.3 89.2h.9v.9h-.9zM55.3 92.8h.9v.9h-.9zM57.8 97.8h.9v.9h-.9zM59.1 88.8h.9v.9h-.9zM64.2 95.4h.9v.9h-.9zM58.4 89.9h.9v.9h-.9zM50.5 88.9h.9v.9h-.9zM61.6 89.7h.9v.9h-.9zM52.7 92.9h.9v.9h-.9zM59 94.3h.9v.9h-.9zM60.6 96.9h.9v.9h-.9zM54.6 95.5h.9v.9h-.9zM54.1 94.6h.9v.9h-.9zM58.7 93.1h.9v.9h-.9zM61.9 92.2h.9v.9h-.9zM62.4 95.2h.9v.9h-.9zM58.5 90.4h.9v.9h-.9zM55 90.6h.9v.9h-.9zM57.2 92.2h.9v.9h-.9zM69.9 94.4h.9v.9h-.9zM61.1 89.5h.9v.9h-.9zM55.2 91.2h.9v.9h-.9zM58.8 88.9h.9v.9h-.9zM64.4 90.4h.9v.9h-.9zM62.3 84.6h.9v.9h-.9zM58 93.2h.9v.9h-.9zM58.8 94.3h.9v.9h-.9zM59.1 92.8h.9v.9h-.9zM50.4 89.9h.9v.9h-.9zM48.6 94.4h.9v.9h-.9zM59.2 91.7h.9v.9h-.9zM54.7 90.4h.9v.9h-.9zM65.4 98h.9v.9h-.9zM57.8 96.6h.9v.9h-.9zM51.6 85.9h.9v.9h-.9zM56.1 89.4h.9v.9h-.9zM55.8 92.9h.9v.9h-.9zM70.1 90.1h.9v.9h-.9zM58.2 93.2h.9v.9h-.9zM57.9 95.4h.9v.9h-.9zM65.1 88.2h.9v.9h-.9zM58.6 91.4h.9v.9h-.9zM59.4 87.2h.9v.9h-.9zM51 84.7h.9v.9h-.9zM60.1 92.9h.9v.9h-.9zM58.3 84.5h.9v.9h-.9zM56.5 89.8h.9v.9h-.9zM52.3 89.3h.9v.9h-.9zM60.8 94.1h.9v.9h-.9zM57.9 94h.9v.9h-.9zM55.6 92.5h.9v.9h-.9zM58.2 94.1h.9v.9h-.9zM57.7 91.8h.9v.9h-.9zM57.5 90.2h.9v.9h-.9zM66.9 94h.9v.9h-.9zM59.7 99.9h.9v.9h-.9zM63.6 87.2h.9v.9h-.9zM60.8 95.1h.9v.9h-.9zM65.5 96.6h.9v.9h-.9zM61.1 88.4h.9v.9h-.9zM54.5 93.2h.9v.9h-.9zM60 88.9h.9v.9h-.9zM56.5 91h.9v.9h-.9zM58.2 93.4h.9v.9h-.9zM56.9 88.2h.9v.9h-.9zM63 97.6h.9v.9h-.9zM57.6 95.7h.9v.9h-.9zM59.8 94.5h.9v.9h-.9zM59.9 89.8h.9v.9h-.9zM60.3 95.6h.9v.9h-.9zM54.4 98.8h.9v.9h-.9zM66.4 98.3h.9v.9h-.9zM66 94.8h.9v.9h-.9zM56.6 90.3h.9v.9h-.9zM54.7 92.7h.9v.9h-.9zM57.9 94.5h.9v.9h-.9zM49.9 99.9h.9v.9h-.9zM67.1 92.2h.9v.9h-.9zM60.7 93.9h.9v.9h-.9zM59.1 91.6h.9v.9h-.9zM57.5 89.6h.9v.9h-.9zM58.7 92.2h.9v.9h-.9zM59.3 89.5h.9v.9h-.9zM58.2 92.5h.9v.9h-.9zM60.4 88.8h.9v.9h-.9zM59.7 95.5h.9v.9h-.9zM60.4 91.1h.9v.9h-.9zM56 91.5h.9v.9h-.9zM60.9 97.4h.9v.9h-.9zM57.4 90.2h.9v.9h-.9zM59.5 93h.9v.9h-.9zM54.4 89.9h.9v.9h-.9zM57.6 94.5h.9v.9h-.9zM53.2 88.9h.9v.9h-.9zM60 88.3h.9v.9h-.9zM58.4 93.5h.9v.9h-.9zM57.6 88.9h.9v.9h-.9zM57.8 91.2h.9v.9h-.9zM59.3 89.5h.9v.9h-.9zM62.4 86.8h.9v.9h-.9zM57.3 92.3h.9v.9h-.9zM61.8 90.3h.9v.9h-.9zM60.2 90.4h.9v.9h-.9zM61 98h.9v.9h-.9zM56.4 93.8h.9v.9h-.9zM54.3 95.5h.9v.9h-.9zM62.8 92.4h.9v.9h-.9zM53.5 93.6h.9v.9h-.9zM62.6 95.9h.9v.9h-.9zM61.3 86.3h.9v.9h-.9zM55.3 97h.9v.9h-.9zM53.1 96h.9v.9h-.9zM65.5 94.8h.9v.9h-.9zM62.5 91.2h.9v.9h-.9zM53.1 92h.9v.9h-.9zM57.2 92.1h.9v.9h-.9zM60.8 91.8h.9v.9h-.9zM58.8 93.7h.9v.9h-.9zM58 98.4h.9v.9h-.9zM59.8 92.6h.9v.9h-.9zM57.2 90.2h.9v.9h-.9zM63.4 92.8h.9v.9h-.9zM53.7 90.4h.9v.9h-.9zM57.5 90.8h.9v.9h-.9zM62.3 88.5h.9v.9h-.9zM60 92.8h.9v.9h-.9zM53.3 92.5h.9v.9h-.9zM57.6 94h.9v.9h-.9zM56.2 93.3h.9v.9h-.9zM51.3 88.7h.9v.9h-.9zM61.1 95.7h.9v.9h-.9zM57.9 90.3h.9v.9h-.9zM62.3 85.4h.9v.9h-.9zM54.8 94.5h.9v.9h-.9zM60.6 88.9h.9v.9h-.9zM50.5 97.1h.9v.9h-.9zM58.6 89.3h.9v.9h-.9zM58.2 95.3h.9v.9h-.9zM47.6 96h.9v.9h-.9zM61 85.4h.9v.9h-.9zM61.1 86.4h.9v.9h-.9zM62.6 93.6h.9v.9h-.9zM67 90.3h.9v.9h-.9zM58 95.8h.9v.9h-.9zM55.4 90h.9v.9h-.9zM56.5 92.1h.9v.9h-.9zM53.7 93.9h.9v.9h-.9zM60.2 92.5h.9v.9h-.9zM64.8 91.2h.9v.9h-.9zM63.2 90.5h.9v.9h-.9zM61 85.9h.9v.9h-.9zM58.8 91.7h.9v.9h-.9zM56 90.3h.9v.9h-.9zM56.6 89.9h.9v.9h-.9zM49.2 90.3h.9v.9h-.9zM55.8 90.6h.9v.9h-.9zM53.8 91.9h.9v.9h-.9zM61.1 91.5h.9v.9h-.9zM56 96.8h.9v.9h-.9zM61.9 95.3h.9v.9h-.9zM62.6 91.2h.9v.9h-.9zM57.5 96h.9v.9h-.9zM55.8 91.9h.9v.9h-.9zM59.5 93.5h.9v.9h-.9zM56.9 95.5h.9v.9h-.9zM57.3 94.7h.9v.9h-.9zM62.3 94.5h.9v.9h-.9zM60.9 88.5h.9v.9h-.9zM52.8 90.3h.9v.9h-.9zM59.9 97.3h.9v.9h-.9zM53.1 93.3h.9v.9h-.9zM54.6 89.9h.9v.9h-.9zM56.9 94.6h.9v.9h-.9zM58.9 96.2h.9v.9h-.9zM54.1 95.2h.9v.9h-.9zM61.7 92.5h.9v.9h-.9zM59.9 90.4h.9v.9h-.9zM53.6 91h.9v.9h-.9zM55.4 101.8h.9v.9h-.9zM56.1 97.7h.9v.9h-.9zM58.8 93.3h.9v.9h-.9zM61 89.7h.9v.9h-.9zM61.7 93.5h.9v.9h-.9zM51.9 94.3h.9v.9h-.9zM60.2 93.8h.9v.9h-.9zM64.3 90.9h.9v.9h-.9zM60 94.8h.9v.9h-.9zM54.4 96.3h.9v.9h-.9zM52.2 88h.9v.9h-.9zM60.1 88.7h.9v.9h-.9zM57.5 86.9h.9v.9h-.9zM58.3 88.6h.9v.9h-.9zM59.4 87.2h.9v.9h-.9zM59.8 91.4h.9v.9h-.9zM58.3 92.1h.9v.9h-.9zM58.5 87.9h.9v.9h-.9zM47.7 92.4h.9v.9h-.9zM54.3 90.8h.9v.9h-.9zM59.7 85.7h.9v.9h-.9zM54.9 90.3h.9v.9h-.9zM53.8 93.4h.9v.9h-.9zM57.4 89.6h.9v.9h-.9zM54.1 95h.9v.9h-.9zM55.4 94.2h.9v.9h-.9zM59.8 86.1h.9v.9h-.9zM53.7 92.3h.9v.9h-.9zM59.4 94.9h.9v.9h-.9zM61.2 95.7h.9v.9h-.9zM56.5 91.6h.9v.9h-.9zM61.1 90.9h.9v.9h-.9zM62.2 87.1h.9v.9h-.9zM60.6 91.7h.9v.9h-.9zM50.1 95.5h.9v.9h-.9zM59.2 92.4h.9v.9h-.9zM53.7 90.8h.9v.9h-.9zM64 89.6h.9v.9h-.9zM44.1 89.5h.9v.9h-.9zM53.2 91.9h.9v.9h-.9zM56.4 89.3h.9v.9h-.9zM54.6 95.8h.9v.9h-.9zM52.2 98.8h.9v.9h-.9zM55.8 88.7h.9v.9h-.9zM61.1 94.2h.9v.9h-.9zM53.8 94.8h.9v.9h-.9zM50.6 89.3h.9v.9h-.9zM62.5 91.5h.9v.9h-.9zM52.8 94h.9v.9h-.9zM61.7 92.2h.9v.9h-.9zM50.8 91.2h.9v.9h-.9zM59.7 94.8h.9v.9h-.9zM65.4 91.5h.9v.9h-.9zM56.1 92.2h.9v.9h-.9zM62.8 89.2h.9v.9h-.9zM63.2 83.2h.9v.9h-.9zM61.2 90.1h.9v.9h-.9zM59.8 94.6h.9v.9h-.9zM53.3 92h.9v.9h-.9zM59 94.2h.9v.9h-.9zM54.3 89h.9v.9h-.9zM50.3 100.7h.9v.9h-.9zM57.2 91.6h.9v.9h-.9zM52 95.4h.9v.9h-.9zM55.9 97h.9v.9h-.9zM61.4 92.4h.9v.9h-.9zM60.9 88.6h.9v.9h-.9zM56.7 90.4h.9v.9h-.9zM52.9 92.4h.9v.9h-.9zM57.4 97h.9v.9h-.9zM44.6 90.1h.9v.9h-.9zM54.3 90.8h.9v.9h-.9zM59.7 93.6h.9v.9h-.9zM58.1 90.7h.9v.9h-.9zM60 93.5h.9v.9h-.9zM50.6 91.4h.9v.9h-.9zM52.5 88.4h.9v.9h-.9zM58.6 92.5h.9v.9h-.9zM58.5 89.4h.9v.9h-.9zM57.2 89.3h.9v.9h-.9zM59.5 94.6h.9v.9h-.9zM65 96.5h.9v.9h-.9zM54.8 90.8h.9v.9h-.9zM54.2 93.3h.9v.9h-.9zM65.9 94.6h.9v.9h-.9zM49.2 88.2h.9v.9h-.9zM52.8 94h.9v.9h-.9zM58 93.3h.9v.9h-.9zM65.1 89.6h.9v.9h-.9zM54.6 98.8h.9v.9h-.9zM59.4 89.7h.9v.9h-.9zM49.9 87.3h.9v.9h-.9zM48.2 92.5h.9v.9h-.9zM58.2 95.6h.9v.9h-.9zM57.4 90h.9v.9h-.9zM55 98.6h.9v.9h-.9zM50.9 92.9h.9v.9h-.9zM58.1 94.3h.9v.9h-.9zM56.4 93.9h.9v.9h-.9zM61.3 91.8h.9v.9h-.9zM56.2 91.7h.9v.9h-.9zM54.1 91.6h.9v.9h-.9zM56.8 93h.9v.9h-.9zM63.3 96.6h.9v.9h-.9zM56.2 94.3h.9v.9h-.9zM59.2 94.8h.9v.9h-.9zM58.1 93.2h.9v.9h-.9zM56.1 89.7h.9v.9h-.9zM61.5 96.6h.9v.9h-.9zM60.6 93.7h.9v.9h-.9zM59.1 90.8h.9v.9h-.9zM50.9 94.5h.9v.9h-.9zM58.8 90.5h.9v.9h-.9zM54.1 96.5h.9v.9h-.9zM50.8 98.1h.9v.9h-.9zM60.6 100.1h.9v.9h-.9zM55.1 92.2h.9v.9h-.9zM56 92.8h.9v.9h-.9zM57.2 89.8h.9v.9h-.9zM62.3 89.7h.9v.9h-.9zM56 94.1h.9v.9h-.9zM55.8 90.9h.9v.9h-.9zM59.4 91.1h.9v.9h-.9zM53 92h.9v.9h-.9zM57.1 97.9h.9v.9h-.9zM53.6 95.5h.9v.9h-.9zM54.9 91.1h.9v.9h-.9zM56.7 93.2h.9v.9h-.9zM61.5 98.1h.9v.9h-.9zM55.5 96.7h.9v.9h-.9zM62 95h.9v.9h-.9zM55 95.3h.9v.9h-.9zM57.6 93.5h.9v.9h-.9zM56.9 94.5h.9v.9h-.9zM62.5 96h.9v.9h-.9zM57.2 95.6h.9v.9h-.9zM63.8 89.2h.9v.9h-.9zM63.9 87.9h.9v.9h-.9zM60.2 94.3h.9v.9h-.9zM66.3 113.8h.9v.9h-.9zM57.7 110.6h.9v.9h-.9zM54.3 115.3h.9v.9h-.9zM58.8 110.8h.9v.9h-.9zM62.1 110.7h.9v.9h-.9zM57.9 111.6h.9v.9h-.9zM67.1 117.4h.9v.9h-.9zM59.1 108.3h.9v.9h-.9zM61 113.2h.9v.9h-.9zM61.3 114.7h.9v.9h-.9zM58.4 115.8h.9v.9h-.9zM63.5 113.6h.9v.9h-.9zM58 111.6h.9v.9h-.9zM62.8 109.7h.9v.9h-.9zM59.1 110.8h.9v.9h-.9zM53.7 114.8h.9v.9h-.9zM59.7 113.1h.9v.9h-.9zM63.6 108.5h.9v.9h-.9zM59.5 113.9h.9v.9h-.9zM63.5 109.7h.9v.9h-.9zM62.9 113.7h.9v.9h-.9zM65.8 116.4h.9v.9h-.9zM62.2 119.4h.9v.9h-.9zM59.8 111.7h.9v.9h-.9zM58.3 110.2h.9v.9h-.9zM59.7 107.4h.9v.9h-.9zM59.4 114.3h.9v.9h-.9zM64.2 112h.9v.9h-.9zM65.9 111h.9v.9h-.9zM59.2 107.4h.9v.9h-.9zM56.5 110.6h.9v.9h-.9zM66.2 114.6h.9v.9h-.9zM55.1 114.6h.9v.9h-.9zM61.9 112.3h.9v.9h-.9zM59.9 112.1h.9v.9h-.9zM57.5 107.8h.9v.9h-.9zM59.4 116.8h.9v.9h-.9zM66 112.2h.9v.9h-.9zM56.6 112.4h.9v.9h-.9zM63.7 114h.9v.9h-.9zM57.3 114.1h.9v.9h-.9zM58.9 114.5h.9v.9h-.9zM58 108.7h.9v.9h-.9zM60 115.2h.9v.9h-.9zM55 112.7h.9v.9h-.9zM63.6 111.9h.9v.9h-.9zM57 118.9h.9v.9h-.9zM63.4 116h.9v.9h-.9zM55.7 117.8h.9v.9h-.9zM52.7 111.5h.9v.9h-.9zM63 116.9h.9v.9h-.9zM55.8 111.1h.9v.9h-.9zM60.6 107.4h.9v.9h-.9zM62.5 114.6h.9v.9h-.9zM57.9 114.6h.9v.9h-.9zM63.1 113.9h.9v.9h-.9zM62 117.4h.9v.9h-.9zM57.8 113.5h.9v.9h-.9zM57.6 116h.9v.9h-.9zM58.1 114.4h.9v.9h-.9zM60.4 113.2h.9v.9h-.9zM67.1 112.8h.9v.9h-.9zM65.8 115.4h.9v.9h-.9zM65.4 112.5h.9v.9h-.9zM63.8 115.2h.9v.9h-.9zM57.2 113.8h.9v.9h-.9zM59.3 112.9h.9v.9h-.9zM65.3 110.9h.9v.9h-.9zM52.6 108h.9v.9h-.9zM57.9 111.1h.9v.9h-.9zM59.9 114.6h.9v.9h-.9zM67.3 113.9h.9v.9h-.9zM61.8 110.9h.9v.9h-.9zM62.3 116.9h.9v.9h-.9zM65.5 107.3h.9v.9h-.9zM63.6 117.6h.9v.9h-.9zM63.3 108.7h.9v.9h-.9zM58.5 114.7h.9v.9h-.9zM61.6 110.7h.9v.9h-.9zM56 115.8h.9v.9h-.9zM54.1 117.1h.9v.9h-.9zM59.9 113.9h.9v.9h-.9zM54.1 111.3h.9v.9h-.9zM62.7 108.8h.9v.9h-.9zM68.6 108.9h.9v.9h-.9zM54.6 113.1h.9v.9h-.9zM61.8 115.1h.9v.9h-.9zM58.2 112.4h.9v.9h-.9zM58.8 111.3h.9v.9h-.9zM48.9 115.8h.9v.9h-.9zM60.9 113.5h.9v.9h-.9zM57.1 113.7h.9v.9h-.9zM59.7 112.8h.9v.9h-.9zM64.5 108h.9v.9h-.9zM60.9 109.9h.9v.9h-.9zM58.5 117.3h.9v.9h-.9zM55.2 112.7h.9v.9h-.9zM57.3 115.7h.9v.9h-.9zM55.7 108.2h.9v.9h-.9zM62 112h.9v.9h-.9zM58.5 116.1h.9v.9h-.9zM56 111.9h.9v.9h-.9zM60.4 114.2h.9v.9h-.9zM57.6 116h.9v.9h-.9zM69.3 111.8h.9v.9h-.9zM67.7 106.9h.9v.9h-.9zM65.7 112h.9v.9h-.9zM60.4 112h.9v.9h-.9zM57.1 109.3h.9v.9h-.9zM58.1 116.7h.9v.9h-.9zM64.6 112h.9v.9h-.9zM57.6 111h.9v.9h-.9zM54.7 118.2h.9v.9h-.9zM62.6 113.3h.9v.9h-.9zM57.7 110.1h.9v.9h-.9zM65.4 115.2h.9v.9h-.9zM55.8 115.8h.9v.9h-.9zM55.1 114.8h.9v.9h-.9zM55.7 111.8h.9v.9h-.9zM61.9 114.2h.9v.9h-.9zM64.1 110.6h.9v.9h-.9zM66.5 116.9h.9v.9h-.9zM59.8 114.3h.9v.9h-.9zM56.5 112.6h.9v.9h-.9zM54.2 113.3h.9v.9h-.9zM60.6 116.9h.9v.9h-.9zM63.8 115.3h.9v.9h-.9zM58.3 112.4h.9v.9h-.9zM58.4 113.6h.9v.9h-.9zM51.6 115.2h.9v.9h-.9zM53.2 111.5h.9v.9h-.9zM59.9 111.5h.9v.9h-.9zM66.8 112.7h.9v.9h-.9zM66.4 116.4h.9v.9h-.9zM57.7 114.2h.9v.9h-.9zM65.3 112h.9v.9h-.9zM60.2 111.4h.9v.9h-.9zM60 112h.9v.9h-.9zM60.1 115.9h.9v.9h-.9zM65.7 113.4h.9v.9h-.9zM60.7 115.5h.9v.9h-.9zM58.6 110h.9v.9h-.9zM64.5 110.3h.9v.9h-.9zM63.7 110.2h.9v.9h-.9zM67.5 110h.9v.9h-.9zM63.4 117.3h.9v.9h-.9zM55.7 117.3h.9v.9h-.9zM56.3 107.9h.9v.9h-.9zM62.8 115h.9v.9h-.9zM58.9 105.7h.9v.9h-.9zM59.6 112.1h.9v.9h-.9zM58.2 112.2h.9v.9h-.9zM52.2 111.4h.9v.9h-.9zM67.4 117.5h.9v.9h-.9zM58.3 110.9h.9v.9h-.9zM61.5 116.1h.9v.9h-.9zM62.9 109.6h.9v.9h-.9zM60.5 113.4h.9v.9h-.9zM65.9 116.4h.9v.9h-.9zM62 116.5h.9v.9h-.9zM58.1 117.4h.9v.9h-.9zM58 114.1h.9v.9h-.9zM63.7 110.4h.9v.9h-.9zM56.8 107.9h.9v.9h-.9zM60.5 112.8h.9v.9h-.9zM58.4 114.4h.9v.9h-.9zM50.9 112.9h.9v.9h-.9zM60.2 112.2h.9v.9h-.9zM63.2 118h.9v.9h-.9zM57.9 110.3h.9v.9h-.9zM57.2 113.3h.9v.9h-.9zM62.3 110.5h.9v.9h-.9zM64 110h.9v.9h-.9zM63.3 114.2h.9v.9h-.9zM61.8 119.2h.9v.9h-.9zM58.7 112.5h.9v.9h-.9zM61.8 115.5h.9v.9h-.9zM54.1 113.8h.9v.9h-.9zM56.7 114.8h.9v.9h-.9zM65.6 113.1h.9v.9h-.9zM59.3 113.5h.9v.9h-.9zM47.3 115.2h.9v.9h-.9zM62.2 113.5h.9v.9h-.9zM58.1 110.9h.9v.9h-.9zM59 116.5h.9v.9h-.9zM59.4 116.9h.9v.9h-.9zM48.9 111.7h.9v.9h-.9zM61 113h.9v.9h-.9zM52.8 111.1h.9v.9h-.9zM65.1 109.3h.9v.9h-.9zM55.6 109.8h.9v.9h-.9zM57.5 114.9h.9v.9h-.9zM62.3 107.2h.9v.9h-.9zM66 111.3h.9v.9h-.9zM57.3 117.8h.9v.9h-.9zM59.5 109.4h.9v.9h-.9zM57.1 110.9h.9v.9h-.9zM55.5 112h.9v.9h-.9zM63.5 114h.9v.9h-.9zM55.6 113.3h.9v.9h-.9zM59.9 115.2h.9v.9h-.9zM58.4 114.3h.9v.9h-.9zM68.7 113.3h.9v.9h-.9zM55.2 113.9h.9v.9h-.9zM56.4 111.9h.9v.9h-.9zM60.6 114h.9v.9h-.9zM58.6 115.4h.9v.9h-.9zM59 109.2h.9v.9h-.9zM63.5 112h.9v.9h-.9zM64.9 111.1h.9v.9h-.9zM62.2 113.9h.9v.9h-.9zM48.4 108.7h.9v.9h-.9zM55.1 117.1h.9v.9h-.9zM51.8 115.6h.9v.9h-.9zM64.4 114.4h.9v.9h-.9zM62.6 111.6h.9v.9h-.9zM59.8 113.6h.9v.9h-.9zM61.6 115h.9v.9h-.9zM58.9 111h.9v.9h-.9zM57.4 114.2h.9v.9h-.9zM52.8 109.4h.9v.9h-.9zM58.1 111.4h.9v.9h-.9zM58.7 105.3h.9v.9h-.9zM58.4 112.3h.9v.9h-.9zM63.1 107.3h.9v.9h-.9zM58.5 114.4h.9v.9h-.9zM61.9 116.4h.9v.9h-.9zM64.3 110h.9v.9h-.9zM62.5 112h.9v.9h-.9zM56.4 117.4h.9v.9h-.9zM57.1 110.5h.9v.9h-.9zM58.1 110.5h.9v.9h-.9zM64.1 114.1h.9v.9h-.9zM65.7 114.2h.9v.9h-.9zM57.2 116h.9v.9h-.9zM57 111.7h.9v.9h-.9zM59.1 113.1h.9v.9h-.9zM64.9 111.3h.9v.9h-.9zM61.3 112.9h.9v.9h-.9zM54.5 109.8h.9v.9h-.9zM58.9 114.2h.9v.9h-.9zM61.2 114.4h.9v.9h-.9zM60 111.7h.9v.9h-.9zM61.6 110.1h.9v.9h-.9zM54.1 112h.9v.9h-.9zM53.7 111.5h.9v.9h-.9zM56.6 111.4h.9v.9h-.9zM59.6 110.7h.9v.9h-.9zM58 108.1h.9v.9h-.9zM60.4 110.5h.9v.9h-.9zM61.5 104.8h.9v.9h-.9zM56.4 113.7h.9v.9h-.9zM49.4 112h.9v.9h-.9zM60.2 113.3h.9v.9h-.9zM53.5 113.7h.9v.9h-.9zM60.4 110.2h.9v.9h-.9zM63 112.9h.9v.9h-.9zM59.9 111.7h.9v.9h-.9zM62.1 113.3h.9v.9h-.9zM64.6 114.3h.9v.9h-.9zM57.2 112.4h.9v.9h-.9zM63.7 111.9h.9v.9h-.9zM61.4 114.5h.9v.9h-.9zM59 106.3h.9v.9h-.9zM60.4 113.6h.9v.9h-.9zM60.4 110.8h.9v.9h-.9zM64.9 112.6h.9v.9h-.9zM57.1 110.9h.9v.9h-.9zM61.3 109.8h.9v.9h-.9zM55.5 118.8h.9v.9h-.9zM65.4 116.1h.9v.9h-.9zM65.6 114.7h.9v.9h-.9zM52.6 116.5h.9v.9h-.9zM65.1 114.4h.9v.9h-.9zM51.5 116.6h.9v.9h-.9zM65.6 111.6h.9v.9h-.9zM60.3 115.3h.9v.9h-.9zM59.4 116.2h.9v.9h-.9zM60.1 115h.9v.9h-.9zM60.2 108.7h.9v.9h-.9zM61 116.8h.9v.9h-.9zM64.7 118h.9v.9h-.9zM62.2 111.3h.9v.9h-.9zM59.9 107.4h.9v.9h-.9zM59 115.6h.9v.9h-.9zM50.6 113.6h.9v.9h-.9zM63.3 116.9h.9v.9h-.9zM55.8 111.1h.9v.9h-.9zM51.8 110h.9v.9h-.9zM62.1 119h.9v.9h-.9zM54.9 117h.9v.9h-.9zM61.6 111.6h.9v.9h-.9zM69.2 105.7h.9v.9h-.9zM59.5 113.6h.9v.9h-.9zM68.9 118.2h.9v.9h-.9zM69.5 113.4h.9v.9h-.9zM64 117h.9v.9h-.9zM62 114h.9v.9h-.9zM59 111.8h.9v.9h-.9zM54.5 118.7h.9v.9h-.9zM57.9 106.9h.9v.9h-.9zM60.9 112.9h.9v.9h-.9zM60.6 118.3h.9v.9h-.9zM59.3 112.2h.9v.9h-.9zM56.6 112.9h.9v.9h-.9zM57.9 113.6h.9v.9h-.9zM73.2 114.1h.9v.9h-.9zM56.1 118.6h.9v.9h-.9zM63.5 115.4h.9v.9h-.9zM62.9 115.4h.9v.9h-.9zM62.7 117.1h.9v.9h-.9zM64.1 116.9h.9v.9h-.9zM57.7 113h.9v.9h-.9zM56.7 115.8h.9v.9h-.9zM63.4 111.6h.9v.9h-.9zM65.1 109.7h.9v.9h-.9zM59.4 114.9h.9v.9h-.9zM59.6 114.1h.9v.9h-.9zM64.9 114h.9v.9h-.9zM55.1 115.1h.9v.9h-.9zM59.4 113.3h.9v.9h-.9zM57.4 109h.9v.9h-.9zM54.5 112h.9v.9h-.9zM55.2 105.1h.9v.9h-.9zM64.7 109.6h.9v.9h-.9zM56.7 114.6h.9v.9h-.9zM49.5 116.9h.9v.9h-.9zM56.5 114.9h.9v.9h-.9zM57.7 113.9h.9v.9h-.9zM60.3 113h.9v.9h-.9zM52 108.7h.9v.9h-.9zM59.6 117.1h.9v.9h-.9zM57.5 114.6h.9v.9h-.9zM60.5 114.4h.9v.9h-.9zM64.1 108.6h.9v.9h-.9zM61 112.5h.9v.9h-.9zM58.5 110.5h.9v.9h-.9zM56.4 110h.9v.9h-.9zM55.1 120.3h.9v.9h-.9zM67.1 113h.9v.9h-.9zM63 110.1h.9v.9h-.9zM47.9 107.7h.9v.9h-.9zM60.4 117.2h.9v.9h-.9zM59.6 110.1h.9v.9h-.9zM58.8 110.1h.9v.9h-.9zM53.8 112.3h.9v.9h-.9zM58.1 110.6h.9v.9h-.9zM56 110.3h.9v.9h-.9zM60.8 117.1h.9v.9h-.9zM58.9 119.5h.9v.9h-.9zM52.9 113.8h.9v.9h-.9zM54.8 112.5h.9v.9h-.9zM60.2 114.6h.9v.9h-.9zM64.6 111.4h.9v.9h-.9zM54.5 112.4h.9v.9h-.9zM61.1 111h.9v.9h-.9zM63.6 117.9h.9v.9h-.9zM53.7 114.1h.9v.9h-.9zM64.2 107.4h.9v.9h-.9zM60.7 112.3h.9v.9h-.9zM53.7 116.8h.9v.9h-.9zM60.7 111.6h.9v.9h-.9zM61.7 114.9h.9v.9h-.9zM63.1 114.7h.9v.9h-.9zM61.6 109.6h.9v.9h-.9zM58 113.4h.9v.9h-.9zM47.9 119.2h.9v.9h-.9zM58.2 109.9h.9v.9h-.9zM52 113.7h.9v.9h-.9zM59.9 111.3h.9v.9h-.9zM58 110.4h.9v.9h-.9zM56.6 112.7h.9v.9h-.9zM57 115h.9v.9h-.9zM59.2 113.4h.9v.9h-.9zM61.5 116.7h.9v.9h-.9zM62.4 113.7h.9v.9h-.9zM59.1 110.6h.9v.9h-.9zM58.3 115h.9v.9h-.9zM60.8 111.9h.9v.9h-.9zM54.1 108.5h.9v.9h-.9zM61.2 116h.9v.9h-.9zM61.4 109h.9v.9h-.9zM58.9 113.6h.9v.9h-.9zM55.9 114h.9v.9h-.9zM58.9 110.6h.9v.9h-.9zM54.5 115.4h.9v.9h-.9zM61.3 110.4h.9v.9h-.9zM55.5 115.6h.9v.9h-.9zM62.4 112.1h.9v.9h-.9zM66.6 112.2h.9v.9h-.9zM55.3 116.2h.9v.9h-.9zM59 114h.9v.9h-.9zM60 110.1h.9v.9h-.9zM54.7 112.4h.9v.9h-.9zM65.8 110.1h.9v.9h-.9zM65.6 113.6h.9v.9h-.9zM55 113.8h.9v.9h-.9zM62.2 110.4h.9v.9h-.9zM50.7 114h.9v.9h-.9zM55 114.3h.9v.9h-.9zM51.6 112.6h.9v.9h-.9zM56.3 108.7h.9v.9h-.9zM58.8 113.5h.9v.9h-.9zM57.4 109.6h.9v.9h-.9zM60.7 107.9h.9v.9h-.9zM62.1 114.4h.9v.9h-.9zM67 115.6h.9v.9h-.9zM61.3 113.8h.9v.9h-.9zM59.9 109.1h.9v.9h-.9zM66.1 114.5h.9v.9h-.9zM58.6 109.7h.9v.9h-.9zM66.1 114.6h.9v.9h-.9zM54.7 115h.9v.9h-.9zM67.9 112.9h.9v.9h-.9zM61.5 111.8h.9v.9h-.9zM57.1 116.1h.9v.9h-.9zM73 113.3h.9v.9h-.9zM59.3 115.3h.9v.9h-.9zM58.5 115.1h.9v.9h-.9zM63.3 110h.9v.9h-.9zM55.2 112.8h.9v.9h-.9zM63.4 113.8h.9v.9h-.9zM65.1 109h.9v.9h-.9zM61.9 111.2h.9v.9h-.9zM60.2 113.9h.9v.9h-.9zM55.7 112.3h.9v.9h-.9zM54.8 113.8h.9v.9h-.9zM56.2 111.6h.9v.9h-.9zM60.7 111.1h.9v.9h-.9zM64.7 111.1h.9v.9h-.9zM63.4 113.8h.9v.9h-.9zM55.4 112.4h.9v.9h-.9zM56.2 111.9h.9v.9h-.9zM58.6 118.3h.9v.9h-.9zM58 117.6h.9v.9h-.9zM61.7 109.2h.9v.9h-.9zM49.9 115h.9v.9h-.9zM51.3 115.1h.9v.9h-.9zM64.2 114.1h.9v.9h-.9zM58.9 112.3h.9v.9h-.9zM60.9 112.1h.9v.9h-.9zM57.5 111.9h.9v.9h-.9zM64.8 111.2h.9v.9h-.9zM61.4 109.7h.9v.9h-.9zM56.8 109h.9v.9h-.9zM59 115h.9v.9h-.9zM61.1 111.6h.9v.9h-.9zM62.4 112h.9v.9h-.9zM61.4 113.8h.9v.9h-.9zM62.1 105.8h.9v.9h-.9zM54.3 115.2h.9v.9h-.9zM59.3 119.5h.9v.9h-.9zM58.8 111.4h.9v.9h-.9zM66.2 114.6h.9v.9h-.9zM67.9 114.5h.9v.9h-.9zM58.9 115.1h.9v.9h-.9zM56.4 111.7h.9v.9h-.9zM57.4 112.4h.9v.9h-.9zM63.1 111.6h.9v.9h-.9zM61.2 111.6h.9v.9h-.9zM63.6 105h.9v.9h-.9zM58.9 113.5h.9v.9h-.9zM55.2 115.9h.9v.9h-.9zM60.7 116.7h.9v.9h-.9zM63.9 114.9h.9v.9h-.9zM59.2 109.8h.9v.9h-.9zM58.9 111.7h.9v.9h-.9zM60.9 111.7h.9v.9h-.9zM72.8 108.4h.9v.9h-.9zM64.8 111.6h.9v.9h-.9zM58.8 115.7h.9v.9h-.9zM59.8 109.5h.9v.9h-.9zM61.6 112.4h.9v.9h-.9zM51.1 113.6h.9v.9h-.9zM55.3 110.8h.9v.9h-.9zM61.9 113.9h.9v.9h-.9zM58.6 119.3h.9v.9h-.9zM61.6 111.2h.9v.9h-.9zM60.8 112.6h.9v.9h-.9zM50.4 108.4h.9v.9h-.9zM53.9 119h.9v.9h-.9zM59 112.2h.9v.9h-.9zM57.4 115.8h.9v.9h-.9zM59.9 117.9h.9v.9h-.9zM63.1 117.8h.9v.9h-.9zM59.3 114.1h.9v.9h-.9zM58 112.5h.9v.9h-.9zM52.5 111.3h.9v.9h-.9zM55.8 111.1h.9v.9h-.9zM65 113.8h.9v.9h-.9zM65 115.5h.9v.9h-.9zM63.7 115.9h.9v.9h-.9zM57.2 115.3h.9v.9h-.9zM58.4 111.5h.9v.9h-.9zM64.9 119.3h.9v.9h-.9zM55.7 118h.9v.9h-.9zM63.3 110.5h.9v.9h-.9zM61 114.1h.9v.9h-.9zM61.4 112h.9v.9h-.9zM54.3 113.1h.9v.9h-.9zM63.5 115.3h.9v.9h-.9zM62.6 116.2h.9v.9h-.9zM55.6 112.9h.9v.9h-.9zM61.2 115.9h.9v.9h-.9zM60.5 114.5h.9v.9h-.9zM60.4 119.1h.9v.9h-.9zM50.5 112.9h.9v.9h-.9zM70.3 113.7h.9v.9h-.9zM52 113.4h.9v.9h-.9zM53.7 111h.9v.9h-.9zM60.8 118h.9v.9h-.9zM61.8 114.9h.9v.9h-.9zM64.1 113.6h.9v.9h-.9zM56.2 112.7h.9v.9h-.9zM61.2 112.2h.9v.9h-.9zM57 112h.9v.9h-.9zM53.4 110h.9v.9h-.9zM59.4 112h.9v.9h-.9zM60 117.1h.9v.9h-.9zM61.1 112.9h.9v.9h-.9zM54.8 109.9h.9v.9h-.9zM61.4 110.5h.9v.9h-.9zM61.6 109.9h.9v.9h-.9zM60.4 112.8h.9v.9h-.9zM64 111.9h.9v.9h-.9zM58.2 113.7h.9v.9h-.9zM60 117.9h.9v.9h-.9zM58.7 111.5h.9v.9h-.9zM58.4 114.4h.9v.9h-.9zM60.8 115h.9v.9h-.9zM53.9 120.2h.9v.9h-.9zM67.6 112.9h.9v.9h-.9zM54.7 113.4h.9v.9h-.9zM61.6 106.6h.9v.9h-.9zM59.9 108.7h.9v.9h-.9zM61.7 117h.9v.9h-.9zM64.2 108.7h.9v.9h-.9zM65.6 115.6h.9v.9h-.9zM58.3 114.4h.9v.9h-.9zM66.2 112h.9v.9h-.9zM59.7 111.4h.9v.9h-.9zM64.7 106.8h.9v.9h-.9zM65.8 110.2h.9v.9h-.9zM63.7 108.3h.9v.9h-.9zM55.8 111.3h.9v.9h-.9zM63.3 108.3h.9v.9h-.9zM62.4 111.2h.9v.9h-.9zM65.1 112.1h.9v.9h-.9zM61.9 112.5h.9v.9h-.9zM67.4 112h.9v.9h-.9zM59.7 118.7h.9v.9h-.9zM60.1 115h.9v.9h-.9zM56.7 113.6h.9v.9h-.9zM50.2 113.3h.9v.9h-.9zM57.1 108.7h.9v.9h-.9zM53.8 116.3h.9v.9h-.9zM61.6 108.6h.9v.9h-.9zM67.5 111h.9v.9h-.9zM58.2 113.7h.9v.9h-.9zM55 108.3h.9v.9h-.9zM56.6 116.4h.9v.9h-.9zM63.8 108.4h.9v.9h-.9zM64.9 113.1h.9v.9h-.9zM61.9 113.1h.9v.9h-.9zM61.6 110.1h.9v.9h-.9zM56 111h.9v.9h-.9zM58.2 114.8h.9v.9h-.9zM54.7 117.6h.9v.9h-.9zM57.1 111.3h.9v.9h-.9zM62.8 114.3h.9v.9h-.9zM58.4 109.9h.9v.9h-.9zM55.6 108.4h.9v.9h-.9zM64.6 116.1h.9v.9h-.9zM67.7 114.4h.9v.9h-.9zM61.2 115.2h.9v.9h-.9zM63.8 112.3h.9v.9h-.9zM61.3 119.2h.9v.9h-.9zM52.6 108.9h.9v.9h-.9zM55.7 115.2h.9v.9h-.9zM64.8 112h.9v.9h-.9zM62.6 112.9h.9v.9h-.9zM61.1 111.4h.9v.9h-.9zM59.7 113h.9v.9h-.9zM64.6 119.4h.9v.9h-.9zM52.1 114.5h.9v.9h-.9zM59.8 115.8h.9v.9h-.9zM64.3 115.3h.9v.9h-.9zM63.2 110.3h.9v.9h-.9zM52.6 117.8h.9v.9h-.9zM64.9 110.2h.9v.9h-.9zM65.3 114.9h.9v.9h-.9zM49.4 115.6h.9v.9h-.9zM55.6 116.4h.9v.9h-.9zM56.9 110.9h.9v.9h-.9zM53.3 112.4h.9v.9h-.9zM64.1 111.1h.9v.9h-.9zM51.9 119.2h.9v.9h-.9zM67.6 115h.9v.9h-.9zM57.5 109.5h.9v.9h-.9zM52.9 114.6h.9v.9h-.9zM65.3 109.9h.9v.9h-.9zM59.8 112.2h.9v.9h-.9zM58.7 114.5h.9v.9h-.9zM68.7 111.2h.9v.9h-.9zM63.4 116.1h.9v.9h-.9zM58.6 112.6h.9v.9h-.9zM54.1 116.1h.9v.9h-.9zM57.5 111.1h.9v.9h-.9zM60.1 110.5h.9v.9h-.9zM55.4 112.1h.9v.9h-.9zM66.1 112.4h.9v.9h-.9zM62 108.8h.9v.9h-.9zM51.5 118.3h.9v.9h-.9zM58.1 108.5h.9v.9h-.9zM59.4 114.8h.9v.9h-.9zM52.5 110.4h.9v.9h-.9zM60.9 110.3h.9v.9h-.9zM63.2 115.8h.9v.9h-.9zM61.7 111.8h.9v.9h-.9zM59.6 111.2h.9v.9h-.9zM59.2 113.9h.9v.9h-.9zM58.5 115.8h.9v.9h-.9zM70.8 111.4h.9v.9h-.9zM61.3 115.4h.9v.9h-.9zM62.5 112.3h.9v.9h-.9zM57.8 115.9h.9v.9h-.9zM62.5 114.5h.9v.9h-.9zM56.4 114.8h.9v.9h-.9zM63.2 112.5h.9v.9h-.9zM62.5 119.3h.9v.9h-.9zM51.8 114.8h.9v.9h-.9zM54.8 109h.9v.9h-.9zM58.8 114.6h.9v.9h-.9zM60 109.6h.9v.9h-.9zM53.7 111.4h.9v.9h-.9zM59.9 110.6h.9v.9h-.9zM53.4 118.1h.9v.9h-.9zM56.2 112.5h.9v.9h-.9zM57.5 111.3h.9v.9h-.9zM60 112.1h.9v.9h-.9zM62.4 109.6h.9v.9h-.9zM53.5 118.7h.9v.9h-.9zM59.5 115.2h.9v.9h-.9zM64.8 114.6h.9v.9h-.9zM60 108.5h.9v.9h-.9zM53 115.8h.9v.9h-.9zM62.7 114.7h.9v.9h-.9zM52.7 106.8h.9v.9h-.9zM55.3 109.6h.9v.9h-.9zM60.5 110h.9v.9h-.9zM66.5 111.2h.9v.9h-.9zM57.4 115.5h.9v.9h-.9zM61.2 110.4h.9v.9h-.9zM63.3 118.6h.9v.9h-.9zM54.6 112.3h.9v.9h-.9zM55.2 107.4h.9v.9h-.9zM62.5 115h.9v.9h-.9zM64 114.2h.9v.9h-.9zM51.2 112.9h.9v.9h-.9zM56.9 109.6h.9v.9h-.9zM55.1 115.2h.9v.9h-.9zM58.5 118.7h.9v.9h-.9zM61.8 107.4h.9v.9h-.9zM63.6 116.6h.9v.9h-.9zM59.9 109.5h.9v.9h-.9zM67.4 109.2h.9v.9h-.9zM59.4 107.4h.9v.9h-.9zM54.4 108h.9v.9h-.9zM64.5 116.4h.9v.9h-.9zM58.1 109h.9v.9h-.9zM59.5 114.1h.9v.9h-.9zM53.3 109.6h.9v.9h-.9zM59.4 115.1h.9v.9h-.9zM60.1 114.3h.9v.9h-.9zM54.4 105.7h.9v.9h-.9zM61.1 110.3h.9v.9h-.9zM59.3 111.9h.9v.9h-.9zM61.9 110.7h.9v.9h-.9zM66 113.1h.9v.9h-.9zM62.1 114.8h.9v.9h-.9zM64.3 114.2h.9v.9h-.9zM52.3 111.2h.9v.9h-.9zM67.8 114.4h.9v.9h-.9zM62.2 114.4h.9v.9h-.9zM57 111h.9v.9h-.9zM57 116.4h.9v.9h-.9zM61.4 118.2h.9v.9h-.9zM61.9 118.5h.9v.9h-.9zM61.8 109.5h.9v.9h-.9zM67.3 114h.9v.9h-.9zM64.9 113.6h.9v.9h-.9zM58.4 113.5h.9v.9h-.9zM55 109.5h.9v.9h-.9zM56 111.5h.9v.9h-.9zM54 112.7h.9v.9h-.9zM61.1 119h.9v.9h-.9zM67.7 112.9h.9v.9h-.9zM63.6 112.4h.9v.9h-.9zM61.5 112.9h.9v.9h-.9zM57.5 113.2h.9v.9h-.9zM53.4 114.3h.9v.9h-.9zM58.5 109.8h.9v.9h-.9zM58.2 114.6h.9v.9h-.9zM56.9 114.4h.9v.9h-.9zM62.3 117.6h.9v.9h-.9zM55.1 112.7h.9v.9h-.9zM62 117.4h.9v.9h-.9zM60.9 115.2h.9v.9h-.9zM53.4 111.3h.9v.9h-.9zM67 112.2h.9v.9h-.9zM69.2 110.8h.9v.9h-.9zM58.6 108.3h.9v.9h-.9zM62.6 113.8h.9v.9h-.9zM68.6 113.5h.9v.9h-.9zM58.7 108.8h.9v.9h-.9zM59.4 115.8h.9v.9h-.9zM63 116.6h.9v.9h-.9zM63.6 112.9h.9v.9h-.9zM62.4 113.5h.9v.9h-.9zM54 118.1h.9v.9h-.9zM61.4 109.9h.9v.9h-.9zM61.5 113.9h.9v.9h-.9zM64.1 117.3h.9v.9h-.9zM46.6 114.6h.9v.9h-.9zM66.5 110.2h.9v.9h-.9zM51.7 113.8h.9v.9h-.9zM61.3 114h.9v.9h-.9zM55 111.6h.9v.9h-.9zM60.6 115.2h.9v.9h-.9zM69.3 113.9h.9v.9h-.9zM57.2 106h.9v.9h-.9zM64.5 112.6h.9v.9h-.9zM59.3 110.1h.9v.9h-.9zM63 107.7h.9v.9h-.9zM60.3 113.4h.9v.9h-.9zM61.1 116.9h.9v.9h-.9zM59.4 113.3h.9v.9h-.9zM63.5 108.4h.9v.9h-.9zM58.5 113.2h.9v.9h-.9zM64 110.6h.9v.9h-.9zM63.3 114.1h.9v.9h-.9zM53.3 108.6h.9v.9h-.9zM53.5 113.4h.9v.9h-.9zM60.7 115.2h.9v.9h-.9zM63.4 111.4h.9v.9h-.9zM64.5 115.4h.9v.9h-.9zM61.9 114.4h.9v.9h-.9zM54.2 114.1h.9v.9h-.9zM55.3 109.4h.9v.9h-.9zM58.3 113.4h.9v.9h-.9zM59.6 112h.9v.9h-.9zM55.4 113.6h.9v.9h-.9zM56.6 108.8h.9v.9h-.9zM60.2 117.3h.9v.9h-.9zM58 109.8h.9v.9h-.9zM65.9 118.1h.9v.9h-.9zM58.5 112.4h.9v.9h-.9zM60.4 116h.9v.9h-.9zM61.7 107.6h.9v.9h-.9zM55 109.3h.9v.9h-.9zM61.7 113.3h.9v.9h-.9zM67.6 112.2h.9v.9h-.9zM61.2 113.2h.9v.9h-.9zM60.4 119.9h.9v.9h-.9zM61 117.4h.9v.9h-.9zM65.5 111.2h.9v.9h-.9zM62.8 111.9h.9v.9h-.9zM60.3 113.5h.9v.9h-.9zM59.9 111.6h.9v.9h-.9zM66.6 112.2h.9v.9h-.9zM62.9 118h.9v.9h-.9zM62.5 116.1h.9v.9h-.9zM65.9 116.3h.9v.9h-.9zM67.3 108.7h.9v.9h-.9zM68.4 113.1h.9v.9h-.9zM52.1 111.1h.9v.9h-.9zM52.4 102h.9v.9h-.9zM52.1 99.8h.9v.9h-.9zM59.2 102.3h.9v.9h-.9zM54.8 101.5h.9v.9h-.9zM57.6 102.2h.9v.9h-.9zM58 101.5h.9v.9h-.9zM61.5 98.5h.9v.9h-.9zM56 102.3h.9v.9h-.9zM56.4 100.8h.9v.9h-.9zM56.3 102.5h.9v.9h-.9zM63 101.6h.9v.9h-.9zM56.9 102.8h.9v.9h-.9zM57 97.7h.9v.9h-.9zM59.1 101.2h.9v.9h-.9zM55.7 103.4h.9v.9h-.9zM58.2 100.8h.9v.9h-.9zM49.3 98.2h.9v.9h-.9zM58.1 101.7h.9v.9h-.9zM59.8 102.5h.9v.9h-.9zM56.1 99.2h.9v.9h-.9zM53.6 101.7h.9v.9h-.9zM53.4 103.7h.9v.9h-.9zM52.7 98.1h.9v.9h-.9zM57.2 98.1h.9v.9h-.9zM64.5 99.8h.9v.9h-.9zM57.8 101.5h.9v.9h-.9zM54.7 98.1h.9v.9h-.9zM50.6 103.9h.9v.9h-.9zM62.1 106.8h.9v.9h-.9zM52.2 103.2h.9v.9h-.9zM57.9 103.9h.9v.9h-.9zM55.9 103.6h.9v.9h-.9zM61.6 103.3h.9v.9h-.9zM63.8 101.6h.9v.9h-.9zM64.2 100.5h.9v.9h-.9zM64.7 96h.9v.9h-.9zM58.1 100.2h.9v.9h-.9zM58 104.3h.9v.9h-.9zM60.9 102.2h.9v.9h-.9zM64.8 98.8h.9v.9h-.9zM54.7 105.3h.9v.9h-.9zM59.3 97.4h.9v.9h-.9zM59.4 99.4h.9v.9h-.9zM63.9 104.5h.9v.9h-.9zM55.8 104.8h.9v.9h-.9zM54.7 104h.9v.9h-.9zM60.3 101.7h.9v.9h-.9zM52.3 101.4h.9v.9h-.9zM48.8 100.8h.9v.9h-.9zM50.6 104.7h.9v.9h-.9zM54.1 96.6h.9v.9h-.9zM60.3 102.8h.9v.9h-.9zM56 106.7h.9v.9h-.9zM61.1 102.1h.9v.9h-.9zM55.4 95.5h.9v.9h-.9zM59.9 104.1h.9v.9h-.9zM55.6 98.9h.9v.9h-.9zM57.8 98.3h.9v.9h-.9zM58 103.7h.9v.9h-.9zM64 102.6h.9v.9h-.9zM58.8 103.6h.9v.9h-.9zM63.6 101.3h.9v.9h-.9zM53.1 100.3h.9v.9h-.9zM53 100h.9v.9h-.9zM57.5 102.8h.9v.9h-.9zM58.6 102.2h.9v.9h-.9zM56.6 102.9h.9v.9h-.9zM61.5 103.7h.9v.9h-.9zM64 101.4h.9v.9h-.9zM57 105.7h.9v.9h-.9zM58.8 102.9h.9v.9h-.9zM56.7 104.1h.9v.9h-.9zM56.4 99.8h.9v.9h-.9zM57.8 101h.9v.9h-.9zM61.3 101.2h.9v.9h-.9zM58.5 101.5h.9v.9h-.9zM59.4 100.6h.9v.9h-.9zM62.4 98.9h.9v.9h-.9zM56.5 100.4h.9v.9h-.9zM60.6 102.1h.9v.9h-.9zM59.9 101.3h.9v.9h-.9zM55.1 99.5h.9v.9h-.9zM56.7 100.8h.9v.9h-.9zM59.1 102.8h.9v.9h-.9zM61.9 101.8h.9v.9h-.9zM55 99.7h.9v.9h-.9zM58.2 102.8h.9v.9h-.9zM65.8 102.4h.9v.9h-.9zM65 106.1h.9v.9h-.9zM53.8 104.7h.9v.9h-.9zM62.5 105h.9v.9h-.9zM58 104.1h.9v.9h-.9zM56.1 101.8h.9v.9h-.9zM58.1 105.9h.9v.9h-.9zM57.1 104.1h.9v.9h-.9zM58.3 100.4h.9v.9h-.9zM59 103.5h.9v.9h-.9zM55.2 103.4h.9v.9h-.9zM55.2 100.1h.9v.9h-.9zM58.9 101.5h.9v.9h-.9zM54.1 98.4h.9v.9h-.9zM58.1 102.5h.9v.9h-.9zM56.2 102.4h.9v.9h-.9zM51.9 102.9h.9v.9h-.9zM59.7 102.6h.9v.9h-.9zM55.5 102.2h.9v.9h-.9zM58.5 104.4h.9v.9h-.9zM59.1 102.6h.9v.9h-.9zM55.1 103.9h.9v.9h-.9zM62.7 100.9h.9v.9h-.9zM60.6 102.7h.9v.9h-.9zM57.8 99.2h.9v.9h-.9zM65 97.9h.9v.9h-.9zM59.2 101.2h.9v.9h-.9zM62.6 101.1h.9v.9h-.9zM58.2 103.3h.9v.9h-.9zM59.8 100.9h.9v.9h-.9zM60.7 102.9h.9v.9h-.9zM62 100.9h.9v.9h-.9zM57.8 101.1h.9v.9h-.9zM54.7 102.6h.9v.9h-.9zM59.6 105.1h.9v.9h-.9zM56.7 102.9h.9v.9h-.9zM62.6 101.7h.9v.9h-.9zM58.3 102.3h.9v.9h-.9zM55.2 99.8h.9v.9h-.9zM62.5 102.4h.9v.9h-.9zM57.7 99.3h.9v.9h-.9zM58.5 104.6h.9v.9h-.9zM53.4 100h.9v.9h-.9zM62.4 105.1h.9v.9h-.9zM64.2 100.8h.9v.9h-.9zM60.4 100.4h.9v.9h-.9zM60.1 101.2h.9v.9h-.9zM58.8 104.9h.9v.9h-.9zM59.3 101.5h.9v.9h-.9zM58.2 102.6h.9v.9h-.9zM56 102.5h.9v.9h-.9zM60.4 105.4h.9v.9h-.9zM49.8 99.4h.9v.9h-.9zM53.1 103.9h.9v.9h-.9zM67.7 102.4h.9v.9h-.9zM58.5 104.5h.9v.9h-.9zM48.3 101.6h.9v.9h-.9zM45.6 102.3h.9v.9h-.9zM56 100.9h.9v.9h-.9zM59.4 100.7h.9v.9h-.9zM62.4 102h.9v.9h-.9zM59.5 107.5h.9v.9h-.9zM56.2 104h.9v.9h-.9zM54.7 104.7h.9v.9h-.9zM61.8 102.3h.9v.9h-.9zM61.9 105.5h.9v.9h-.9zM63.5 102h.9v.9h-.9zM57.8 104.4h.9v.9h-.9zM52.2 100.7h.9v.9h-.9zM59.9 103.2h.9v.9h-.9zM65.4 105.8h.9v.9h-.9zM59.3 103h.9v.9h-.9zM52.8 101.6h.9v.9h-.9zM59.6 113.2h.9v.9h-.9zM58.4 116.1h.9v.9h-.9zM52.3 112h.9v.9h-.9zM47.4 118h.9v.9h-.9zM51.7 108.1h.9v.9h-.9zM62.6 113.3h.9v.9h-.9zM63.7 112.7h.9v.9h-.9zM70.6 116.5h.9v.9h-.9zM58.9 114.4h.9v.9h-.9zM56.8 116.8h.9v.9h-.9zM69.9 112.5h.9v.9h-.9zM51.5 116.1h.9v.9h-.9zM64.3 108.8h.9v.9h-.9zM53.9 110.6h.9v.9h-.9zM61.3 115.7h.9v.9h-.9zM53.6 110.1h.9v.9h-.9zM62 106.9h.9v.9h-.9zM61.8 113.5h.9v.9h-.9zM69.4 117.4h.9v.9h-.9zM54.6 113.1h.9v.9h-.9zM56.4 111.5h.9v.9h-.9zM58.5 117.3h.9v.9h-.9zM49.1 113.2h.9v.9h-.9zM66.8 116.6h.9v.9h-.9zM53.2 111.2h.9v.9h-.9zM52.9 108.5h.9v.9h-.9zM64.8 114.2h.9v.9h-.9zM53.9 109.1h.9v.9h-.9zM55.7 112.2h.9v.9h-.9zM68.2 112.4h.9v.9h-.9zM58.7 117.7h.9v.9h-.9zM61.9 113.4h.9v.9h-.9zM45.1 118.8h.9v.9h-.9zM61.5 112.5h.9v.9h-.9zM57.5 110.7h.9v.9h-.9zM52.7 108.9h.9v.9h-.9zM61 115.8h.9v.9h-.9zM59 116.7h.9v.9h-.9zM61.2 114.4h.9v.9h-.9zM52.8 116h.9v.9h-.9zM65 116.2h.9v.9h-.9zM65.4 112.4h.9v.9h-.9zM52.2 118.3h.9v.9h-.9zM54.6 114.8h.9v.9h-.9zM56.9 114.1h.9v.9h-.9zM56.4 112.1h.9v.9h-.9zM59.2 107.4h.9v.9h-.9zM52.7 110.1h.9v.9h-.9zM53.6 105.2h.9v.9h-.9zM61.4 119.6h.9v.9h-.9zM56.6 116.6h.9v.9h-.9zM61.5 109.7h.9v.9h-.9zM65.2 108.2h.9v.9h-.9zM54.6 112.8h.9v.9h-.9zM65.4 114.4h.9v.9h-.9zM57.3 111.2h.9v.9h-.9zM58.5 114.1h.9v.9h-.9zM62.3 118.8h.9v.9h-.9zM62.3 114.1h.9v.9h-.9zM57.1 119.5h.9v.9h-.9zM59.2 113.9h.9v.9h-.9zM68.6 119.4h.9v.9h-.9zM61.3 113.6h.9v.9h-.9zM54.3 117.7h.9v.9h-.9zM55.3 117.3h.9v.9h-.9zM53.4 114.4h.9v.9h-.9zM60.4 114.5h.9v.9h-.9zM59.4 115.3h.9v.9h-.9zM51.4 110.2h.9v.9h-.9zM57.1 120.2h.9v.9h-.9zM57.3 110.8h.9v.9h-.9zM54.1 114.1h.9v.9h-.9zM64.9 112.1h.9v.9h-.9zM61.3 114.6h.9v.9h-.9zM55.9 110.8h.9v.9h-.9zM57.1 111.5h.9v.9h-.9zM61.2 108h.9v.9h-.9zM64.6 116.6h.9v.9h-.9zM61.4 119.1h.9v.9h-.9zM61.5 108.2h.9v.9h-.9zM58.3 115.5h.9v.9h-.9zM54 110.1h.9v.9h-.9zM60.5 115.7h.9v.9h-.9zM55.5 113.2h.9v.9h-.9zM55 112.1h.9v.9h-.9zM57.7 117.7h.9v.9h-.9zM48.6 112.8h.9v.9h-.9zM67.5 115.1h.9v.9h-.9zM58.9 116.9h.9v.9h-.9zM52.1 109.9h.9v.9h-.9zM48.3 109h.9v.9h-.9zM59.5 116.9h.9v.9h-.9zM55.6 111.7h.9v.9h-.9zM60.4 116.1h.9v.9h-.9zM59.5 107.5h.9v.9h-.9zM54.8 105.4h.9v.9h-.9zM59.4 111.1h.9v.9h-.9zM54.2 119.1h.9v.9h-.9zM65.7 115.6h.9v.9h-.9zM59.6 114.6h.9v.9h-.9zM54.6 113.8h.9v.9h-.9zM69.2 111h.9v.9h-.9zM54.1 114.6h.9v.9h-.9zM63.2 116.8h.9v.9h-.9zM52.4 113.6h.9v.9h-.9zM56.5 109.8h.9v.9h-.9zM58.5 112.4h.9v.9h-.9zM63.4 115.5h.9v.9h-.9zM53.4 114.3h.9v.9h-.9zM55.9 111.8h.9v.9h-.9zM55.2 117.6h.9v.9h-.9zM55.6 108.2h.9v.9h-.9zM53.5 116.7h.9v.9h-.9zM70.6 110.4h.9v.9h-.9zM55.9 112.9h.9v.9h-.9zM49.8 115.4h.9v.9h-.9zM57.7 115h.9v.9h-.9zM71.1 113.1h.9v.9h-.9zM62.6 116.8h.9v.9h-.9zM54.3 112h.9v.9h-.9zM67.1 116.4h.9v.9h-.9zM58.8 110.3h.9v.9h-.9zM63.2 115.8h.9v.9h-.9zM70.8 119h.9v.9h-.9zM62.7 114.9h.9v.9h-.9zM58.4 112.1h.9v.9h-.9zM59.8 114.8h.9v.9h-.9zM61.8 117.7h.9v.9h-.9zM59.8 112.2h.9v.9h-.9zM62.7 119.3h.9v.9h-.9zM53.1 115.4h.9v.9h-.9zM61.2 115.8h.9v.9h-.9zM60.9 113.7h.9v.9h-.9zM57.4 119.7h.9v.9h-.9zM68.1 109.2h.9v.9h-.9zM43.2 115.5h.9v.9h-.9zM54.1 112.2h.9v.9h-.9zM48.7 115.2h.9v.9h-.9zM57.7 112.2h.9v.9h-.9zM66.6 118h.9v.9h-.9zM55.6 116.2h.9v.9h-.9zM57.8 117.9h.9v.9h-.9zM61.4 113.9h.9v.9h-.9zM61.2 111.6h.9v.9h-.9zM62.6 119.1h.9v.9h-.9zM55.9 115.9h.9v.9h-.9zM48.3 117.2h.9v.9h-.9zM63.1 110.5h.9v.9h-.9zM34.5 106.2h.9v.9h-.9zM64.9 113h.9v.9h-.9zM82.6 84.4h.9v.9h-.9zM77.3 108.9h.9v.9h-.9zM47.6 86.3h.9v.9h-.9zM53.1 85.6h.9v.9h-.9zM53.3 73.5h.9v.9h-.9zM45.6 113.5h.9v.9h-.9zM54.9 99.8h.9v.9h-.9zM79.3 105.8h.9v.9h-.9zM46.5 114h.9v.9h-.9zM75 117.5h.9v.9h-.9zM71.1 105.7h.9v.9h-.9zM75.5 80.7h.9v.9h-.9zM67.5 87h.9v.9h-.9zM76.8 74.7h.9v.9h-.9zM61.5 84.8h.9v.9h-.9zM75.9 85.3h.9v.9h-.9zM77 110.4h.9v.9h-.9zM78.8 75h.9v.9h-.9zM81.9 105.2h.9v.9h-.9zM68.5 100.6h.9v.9h-.9zM36.4 111.5h.9v.9h-.9zM61.9 90.8h.9v.9h-.9zM51.3 107.1h.9v.9h-.9zM73.9 111.5h.9v.9h-.9zM44.9 85h.9v.9h-.9zM46.7 73h.9v.9h-.9zM50.7 69.3h.9v.9h-.9zM74.6 79.4h.9v.9h-.9zM37.6 71.4h.9v.9h-.9zM71.8 77.9h.9v.9h-.9zM57.6 88.1h.9v.9h-.9zM74.9 115.7h.9v.9h-.9zM49.8 99.6h.9v.9h-.9zM79.6 91.5h.9v.9h-.9zM79.9 104.7h.9v.9h-.9zM49.9 111.7h.9v.9h-.9zM63.2 73.3h.9v.9h-.9zM64 109.5h.9v.9h-.9zM61.4 108.2h.9v.9h-.9zM59.2 116.5h.9v.9h-.9zM64.6 102.4h.9v.9h-.9zM58 105.6h.9v.9h-.9zM71.1 112.6h.9v.9h-.9zM52.7 117.2h.9v.9h-.9zM50.8 110.4h.9v.9h-.9zM59.5 113.1h.9v.9h-.9zM59.4 99.9h.9v.9h-.9zM61.5 115.2h.9v.9h-.9zM67.4 105.5h.9v.9h-.9zM54.9 113.6h.9v.9h-.9zM67.6 102.6h.9v.9h-.9zM69.4 118.8h.9v.9h-.9zM59.5 106h.9v.9h-.9zM65.6 117.5h.9v.9h-.9zM54.4 104.3h.9v.9h-.9zM57.2 113.4h.9v.9h-.9zM54.1 109.5h.9v.9h-.9zM61 112h.9v.9h-.9zM53.2 118.1h.9v.9h-.9zM72 109.8h.9v.9h-.9zM67.5 101.9h.9v.9h-.9zM70 109.6h.9v.9h-.9zM66.7 116.2h.9v.9h-.9zM58 117.4h.9v.9h-.9zM54.6 98.5h.9v.9h-.9zM61.1 116.9h.9v.9h-.9zM69.8 118.1h.9v.9h-.9zM61.2 117.6h.9v.9h-.9zM62.3 101h.9v.9h-.9zM63.9 114.9h.9v.9h-.9zM59.3 110.6h.9v.9h-.9zM55.7 103.8h.9v.9h-.9zM59.2 108.8h.9v.9h-.9zM60.3 99.9h.9v.9h-.9zM50.1 105.1h.9v.9h-.9zM65.8 113.7h.9v.9h-.9zM55.2 103.4h.9v.9h-.9zM61.4 101.7h.9v.9h-.9zM63.3 117h.9v.9h-.9zM54.4 110.3h.9v.9h-.9zM65.9 113.7h.9v.9h-.9zM65.7 112.9h.9v.9h-.9zM56 115.6h.9v.9h-.9z" fill="#000" fill-opacity="0.8"/>
<line x1="50.2" y1="67.3" x2="50.2" y2="121" stroke="#888" stroke-width="1.1"/>
<line x1="33.3" y1="106.3" x2="86.1" y2="106.3" stroke="#888" stroke-width="1.1"/>
<text x="34.2" y="74.6" font-size="7.8" font-weight="bold" text-anchor="start" fill="#000" >0.87</text>
<text x="85.5" y="74.6" font-size="7.8" font-weight="bold" text-anchor="end" fill="#000" >56.8</text>
<text x="34.2" y="119.8" font-size="7.8" font-weight="bold" text-anchor="start" fill="#000" >2.27</text>
<text x="85.5" y="119.8" font-size="7.8" font-weight="bold" text-anchor="end" fill="#000" >40.1</text>
<line x1="86" y1="31.8" x2="106" y2="31.8" stroke="#000" stroke-width="1.7"/>
<polygon points="113.8,31.8 105.2,28.5 105.2,35.1" fill="#000"/>
<line x1="86" y1="91.4" x2="106" y2="91.4" stroke="#000" stroke-width="1.7"/>
<polygon points="113.8,91.4 105.2,88.10000000000001 105.2,94.7" fill="#000"/>
<line x1="116.6" y1="59.1" x2="119" y2="58.4" stroke="#999" stroke-width="0.8"/><line x1="113.8" y1="55.9" x2="115.8" y2="55.3" stroke="#999" stroke-width="0.8"/><line x1="129.9" y1="59.1" x2="132.3" y2="58.4" stroke="#999" stroke-width="0.8"/><line x1="113.8" y1="45.2" x2="115.8" y2="44.6" stroke="#999" stroke-width="0.8"/><line x1="143.2" y1="59.1" x2="145.6" y2="58.4" stroke="#999" stroke-width="0.8"/><line x1="113.8" y1="34.5" x2="115.8" y2="33.9" stroke="#999" stroke-width="0.8"/><line x1="156.6" y1="59.1" x2="159" y2="58.4" stroke="#999" stroke-width="0.8"/><line x1="113.8" y1="23.8" x2="115.8" y2="23.2" stroke="#999" stroke-width="0.8"/><line x1="169.9" y1="59.1" x2="172.3" y2="58.4" stroke="#999" stroke-width="0.8"/><line x1="113.8" y1="13.1" x2="115.8" y2="12.5" stroke="#999" stroke-width="0.8"/>
<rect x="117.8" y="2.4" width="53.3" height="53.5" fill="#fff" stroke="#b4b4b4" stroke-width="0.8"/>
<polygon points="117.8,55.4 117.8,33.9 120.3,34.7 122.7,33 125.2,35.5 127.7,39.7 129.4,38.8 131,33 132.7,23.1 135.1,13.2 137.1,6.6 138.8,9.9 140.1,19.8 141.8,36.4 143.4,49.6 145,54.5 146,55.4" fill="#a9a9a9"/>
<polyline points="118.2,55.4 118.2,2.8 119.4,9.1 121.1,11.6 122.2,6.6 123.2,11.6 124.4,19.8 126,29.8 127.7,39.7 129.4,47.1 131.8,52 135.1,54.5 140,55.2 171,55.4" fill="none" stroke="#000" stroke-width="0.8" stroke-linejoin="round"/>
<line x1="177.9" y1="59.1" x2="180.3" y2="58.4" stroke="#999" stroke-width="0.8"/><line x1="175.1" y1="55.9" x2="177.1" y2="55.3" stroke="#999" stroke-width="0.8"/><line x1="191.2" y1="59.1" x2="193.6" y2="58.4" stroke="#999" stroke-width="0.8"/><line x1="175.1" y1="45.2" x2="177.1" y2="44.6" stroke="#999" stroke-width="0.8"/><line x1="204.6" y1="59.1" x2="206.9" y2="58.4" stroke="#999" stroke-width="0.8"/><line x1="175.1" y1="34.5" x2="177.1" y2="33.9" stroke="#999" stroke-width="0.8"/><line x1="217.9" y1="59.1" x2="220.3" y2="58.4" stroke="#999" stroke-width="0.8"/><line x1="175.1" y1="23.8" x2="177.1" y2="23.2" stroke="#999" stroke-width="0.8"/><line x1="231.2" y1="59.1" x2="233.6" y2="58.4" stroke="#999" stroke-width="0.8"/><line x1="175.1" y1="13.1" x2="177.1" y2="12.5" stroke="#999" stroke-width="0.8"/>
<rect x="179.1" y="2.4" width="53.3" height="53.5" fill="#fff" stroke="#b4b4b4" stroke-width="0.8"/>
<polygon points="194.9,55.4 194.9,54.6 198.2,52.2 200.7,48 203.1,38.1 204.8,26.5 206.5,13.2 208.1,7.5 209.3,13.2 210.6,26.5 211.8,39.7 213.1,49.7 214.7,54.6 215.5,55.4" fill="#a9a9a9"/>
<polyline points="179.5,55.4 179.5,35.6 179.9,41.4 180.8,24.8 182,13.2 183.3,6.3 184.4,5.8 185.4,9.9 186.6,19.9 187.9,36.4 189.1,48 190.7,53.8 193.2,55 232,55.4" fill="none" stroke="#000" stroke-width="0.8" stroke-linejoin="round"/>
<line x1="240.4" y1="59.1" x2="242.8" y2="58.4" stroke="#999" stroke-width="0.8"/><line x1="237.6" y1="55.9" x2="239.6" y2="55.3" stroke="#999" stroke-width="0.8"/><line x1="253.7" y1="59.1" x2="256.1" y2="58.4" stroke="#999" stroke-width="0.8"/><line x1="237.6" y1="45.2" x2="239.6" y2="44.6" stroke="#999" stroke-width="0.8"/><line x1="267.1" y1="59.1" x2="269.4" y2="58.4" stroke="#999" stroke-width="0.8"/><line x1="237.6" y1="34.5" x2="239.6" y2="33.9" stroke="#999" stroke-width="0.8"/><line x1="280.4" y1="59.1" x2="282.8" y2="58.4" stroke="#999" stroke-width="0.8"/><line x1="237.6" y1="23.8" x2="239.6" y2="23.2" stroke="#999" stroke-width="0.8"/><line x1="293.7" y1="59.1" x2="296.1" y2="58.4" stroke="#999" stroke-width="0.8"/><line x1="237.6" y1="13.1" x2="239.6" y2="12.5" stroke="#999" stroke-width="0.8"/>
<rect x="241.6" y="2.4" width="53.3" height="53.5" fill="#fff" stroke="#b4b4b4" stroke-width="0.8"/>
<polygon points="241.6,55.4 241.6,13.2 243,13.2 243,55" fill="#a9a9a9"/>
<polygon points="243.6,55.4 246.1,44.6 248.6,24.8 251,9.9 252.7,5.8 254.4,11.6 256,21.5 257.7,33 259.3,43 261.8,52.9 263.4,54.9 264,55.4" fill="#a9a9a9"/>
<polyline points="242,13.5 242,44.6 242.8,38 243.9,24.8 245.3,13.2 246.6,5.8 247.7,9.1 248.6,9.9 249.9,19.8 251,36.4 252.7,49.6 254.4,54.5 258,55.2 294.5,55.4" fill="none" stroke="#000" stroke-width="0.8" stroke-linejoin="round"/>
<line x1="301.3" y1="59.1" x2="303.7" y2="58.4" stroke="#999" stroke-width="0.8"/><line x1="298.5" y1="55.9" x2="300.5" y2="55.3" stroke="#999" stroke-width="0.8"/><line x1="314.6" y1="59.1" x2="317" y2="58.4" stroke="#999" stroke-width="0.8"/><line x1="298.5" y1="45.2" x2="300.5" y2="44.6" stroke="#999" stroke-width="0.8"/><line x1="327.9" y1="59.1" x2="330.3" y2="58.4" stroke="#999" stroke-width="0.8"/><line x1="298.5" y1="34.5" x2="300.5" y2="33.9" stroke="#999" stroke-width="0.8"/><line x1="341.3" y1="59.1" x2="343.7" y2="58.4" stroke="#999" stroke-width="0.8"/><line x1="298.5" y1="23.8" x2="300.5" y2="23.2" stroke="#999" stroke-width="0.8"/><line x1="354.6" y1="59.1" x2="357" y2="58.4" stroke="#999" stroke-width="0.8"/><line x1="298.5" y1="13.1" x2="300.5" y2="12.5" stroke="#999" stroke-width="0.8"/>
<rect x="302.5" y="2.4" width="53.3" height="53.5" fill="#fff" stroke="#b4b4b4" stroke-width="0.8"/>
<polygon points="302.5,55.4 302.5,13.2 304,13.2 304,55" fill="#a9a9a9"/>
<polygon points="318.7,55.4 318.7,54.5 320.3,47.9 322,33 323.6,16.5 325.3,6.6 326.9,13.2 328.6,29.8 330.2,44.6 331.9,52.9 333,54.9 333.5,55.4" fill="#a9a9a9"/>
<polyline points="303.5,44.6 304.3,33 305.4,19.8 306.6,9.9 307.9,5.8 309.2,9.9 310.1,9.1 311.2,19.8 312.5,36.4 314,49.6 315.9,54.5 320,55.2 356,55.4" fill="none" stroke="#000" stroke-width="0.8" stroke-linejoin="round"/>
<line x1="362.9" y1="59.1" x2="365.3" y2="58.4" stroke="#999" stroke-width="0.8"/><line x1="360.1" y1="55.9" x2="362.1" y2="55.3" stroke="#999" stroke-width="0.8"/><line x1="376.2" y1="59.1" x2="378.6" y2="58.4" stroke="#999" stroke-width="0.8"/><line x1="360.1" y1="45.2" x2="362.1" y2="44.6" stroke="#999" stroke-width="0.8"/><line x1="389.6" y1="59.1" x2="391.9" y2="58.4" stroke="#999" stroke-width="0.8"/><line x1="360.1" y1="34.5" x2="362.1" y2="33.9" stroke="#999" stroke-width="0.8"/><line x1="402.9" y1="59.1" x2="405.3" y2="58.4" stroke="#999" stroke-width="0.8"/><line x1="360.1" y1="23.8" x2="362.1" y2="23.2" stroke="#999" stroke-width="0.8"/><line x1="416.2" y1="59.1" x2="418.6" y2="58.4" stroke="#999" stroke-width="0.8"/><line x1="360.1" y1="13.1" x2="362.1" y2="12.5" stroke="#999" stroke-width="0.8"/>
<rect x="364.1" y="2.4" width="53.3" height="53.5" fill="#fff" stroke="#b4b4b4" stroke-width="0.8"/>
<polygon points="364.1,55.4 364.1,13.2 365,13.2 365,44.6 365.3,33 366.3,19.8 367.4,11.6 369.1,5.8 370.2,9.1 371.2,9.9 372.4,23.1 373.6,38 374.9,49.6 375.7,49.6 377.4,47.9 379,46.3 380.7,47.1 382.3,45.5 384.5,44.6 385.6,43 386.8,47.1 388.4,49.6 390.6,53.7 392.2,54.9 393,55.4" fill="#a9a9a9"/>
<polyline points="364.6,13.5 364.6,55 365,44.6 365.3,33 366.3,19.8 367.4,11.6 369.1,5.8 370.2,9.1 371.2,9.9 372.4,23.1 373.6,38 374.9,49.6 376.5,54.5 380,55.2 417,55.4" fill="none" stroke="#000" stroke-width="0.8" stroke-linejoin="round"/>
<line x1="423.8" y1="59.1" x2="426.2" y2="58.4" stroke="#999" stroke-width="0.8"/><line x1="421" y1="55.9" x2="423" y2="55.3" stroke="#999" stroke-width="0.8"/><line x1="437.1" y1="59.1" x2="439.5" y2="58.4" stroke="#999" stroke-width="0.8"/><line x1="421" y1="45.2" x2="423" y2="44.6" stroke="#999" stroke-width="0.8"/><line x1="450.4" y1="59.1" x2="452.8" y2="58.4" stroke="#999" stroke-width="0.8"/><line x1="421" y1="34.5" x2="423" y2="33.9" stroke="#999" stroke-width="0.8"/><line x1="463.8" y1="59.1" x2="466.2" y2="58.4" stroke="#999" stroke-width="0.8"/><line x1="421" y1="23.8" x2="423" y2="23.2" stroke="#999" stroke-width="0.8"/><line x1="477.1" y1="59.1" x2="479.5" y2="58.4" stroke="#999" stroke-width="0.8"/><line x1="421" y1="13.1" x2="423" y2="12.5" stroke="#999" stroke-width="0.8"/>
<rect x="425" y="2.4" width="53.3" height="53.5" fill="#fff" stroke="#b4b4b4" stroke-width="0.8"/>
<polygon points="425,55.4 425,39.7 426.3,29.8 427.5,16.6 428.6,8.3 429.6,5.3 430.8,9.1 431.6,9.9 432.9,23.2 434.1,38.1 435.2,48 436.6,52.2 439.9,51.3 443.2,50.5 446.5,48.8 449,44.7 451.5,38.1 453.1,33.1 454.4,29.8 455.6,33.1 456.8,41.4 458.1,49.7 459.7,54.6 460.5,55.4" fill="#a9a9a9"/>
<polyline points="425.5,55 425.5,39.7 426.3,29.8 427.5,16.6 428.6,8.3 429.6,5.3 430.8,9.1 431.6,9.9 432.9,23.2 434.1,38.1 435.2,48 436.6,53 439,55 478,55.4" fill="none" stroke="#000" stroke-width="0.8" stroke-linejoin="round"/>
<line x1="116.6" y1="122.8" x2="119" y2="122.1" stroke="#999" stroke-width="0.8"/><line x1="113.8" y1="119.6" x2="115.8" y2="119" stroke="#999" stroke-width="0.8"/><line x1="129.9" y1="122.8" x2="132.3" y2="122.1" stroke="#999" stroke-width="0.8"/><line x1="113.8" y1="109" x2="115.8" y2="108.4" stroke="#999" stroke-width="0.8"/><line x1="143.2" y1="122.8" x2="145.6" y2="122.1" stroke="#999" stroke-width="0.8"/><line x1="113.8" y1="98.3" x2="115.8" y2="97.7" stroke="#999" stroke-width="0.8"/><line x1="156.6" y1="122.8" x2="159" y2="122.1" stroke="#999" stroke-width="0.8"/><line x1="113.8" y1="87.7" x2="115.8" y2="87.1" stroke="#999" stroke-width="0.8"/><line x1="169.9" y1="122.8" x2="172.3" y2="122.1" stroke="#999" stroke-width="0.8"/><line x1="113.8" y1="77" x2="115.8" y2="76.4" stroke="#999" stroke-width="0.8"/>
<rect x="117.8" y="66.4" width="53.3" height="53.2" fill="#fff" stroke="#b4b4b4" stroke-width="0.8"/>
<polygon points="118.3,119.6 118.3,66.8 119.4,73.6 120.6,76.9 121.9,71.9 123.6,74.4 125.2,77.7 126.9,76.9 128.2,81.8 129.4,95 130.5,106.6 131.8,113.2 134.3,115.7 136.8,114.9 140.1,114.1 142.6,115.7 145,118.2 147.5,119 148,119.6" fill="#a9a9a9"/>
<polyline points="118.6,119.4 118.6,67 119.4,76.9 120.6,78.5 121.6,73.6 122.7,71.6 123.9,72.7 125.2,76.9 126.4,78.5 127.4,75.2 128.2,76 129,81.8 130.2,91.8 131.3,103.3 132.7,112.4 135.1,116.5 138.4,118.2 145,119 171,119.2" fill="none" stroke="#000" stroke-width="0.8" stroke-linejoin="round"/>
<line x1="177.9" y1="122.8" x2="180.3" y2="122.1" stroke="#999" stroke-width="0.8"/><line x1="175.1" y1="119.6" x2="177.1" y2="119" stroke="#999" stroke-width="0.8"/><line x1="191.2" y1="122.8" x2="193.6" y2="122.1" stroke="#999" stroke-width="0.8"/><line x1="175.1" y1="109" x2="177.1" y2="108.4" stroke="#999" stroke-width="0.8"/><line x1="204.6" y1="122.8" x2="206.9" y2="122.1" stroke="#999" stroke-width="0.8"/><line x1="175.1" y1="98.3" x2="177.1" y2="97.7" stroke="#999" stroke-width="0.8"/><line x1="217.9" y1="122.8" x2="220.3" y2="122.1" stroke="#999" stroke-width="0.8"/><line x1="175.1" y1="87.7" x2="177.1" y2="87.1" stroke="#999" stroke-width="0.8"/><line x1="231.2" y1="122.8" x2="233.6" y2="122.1" stroke="#999" stroke-width="0.8"/><line x1="175.1" y1="77" x2="177.1" y2="76.4" stroke="#999" stroke-width="0.8"/>
<rect x="179.1" y="66.4" width="53.3" height="53.2" fill="#fff" stroke="#b4b4b4" stroke-width="0.8"/>
<polygon points="179.5,119.4 179.5,116.6 180.8,105 182,100.1 183.3,103.4 184.9,110 186.6,115 189.1,117.5 190,119.4" fill="#a9a9a9"/>
<polygon points="194.9,119.4 194.9,117.5 197.4,113.3 199.8,106.7 201.5,100.1 202.8,101.7 204.5,86.8 206.1,75.2 207.6,71.1 208.9,76.1 210.1,86.8 211.4,103.4 212.7,113.3 214.4,117.5 215,119.4" fill="#a9a9a9"/>
<polyline points="179.4,93.5 179.4,113.3 180,111.7 180.8,95.1 182,85.2 183.3,77.7 184.4,74.4 185.4,70.3 186.3,71.1 187.1,78.6 188.2,91.8 189.4,105 190.7,113.3 192.4,116.6 196,118.4 232,118.8" fill="none" stroke="#000" stroke-width="0.8" stroke-linejoin="round"/>
<line x1="240.4" y1="122.8" x2="242.8" y2="122.1" stroke="#999" stroke-width="0.8"/><line x1="237.6" y1="119.6" x2="239.6" y2="119" stroke="#999" stroke-width="0.8"/><line x1="253.7" y1="122.8" x2="256.1" y2="122.1" stroke="#999" stroke-width="0.8"/><line x1="237.6" y1="109" x2="239.6" y2="108.4" stroke="#999" stroke-width="0.8"/><line x1="267.1" y1="122.8" x2="269.4" y2="122.1" stroke="#999" stroke-width="0.8"/><line x1="237.6" y1="98.3" x2="239.6" y2="97.7" stroke="#999" stroke-width="0.8"/><line x1="280.4" y1="122.8" x2="282.8" y2="122.1" stroke="#999" stroke-width="0.8"/><line x1="237.6" y1="87.7" x2="239.6" y2="87.1" stroke="#999" stroke-width="0.8"/><line x1="293.7" y1="122.8" x2="296.1" y2="122.1" stroke="#999" stroke-width="0.8"/><line x1="237.6" y1="77" x2="239.6" y2="76.4" stroke="#999" stroke-width="0.8"/>
<rect x="241.6" y="66.4" width="53.3" height="53.2" fill="#fff" stroke="#b4b4b4" stroke-width="0.8"/>
<polygon points="241.6,119.4 241.6,104.1 243,104.1 243,119" fill="#a9a9a9"/>
<polygon points="242.8,119.4 242.8,116.5 244.4,106.6 246.1,95 247.7,86.8 249.4,83.5 251,88.4 252.7,98.4 254.4,106.6 256,111.6 257.7,114.9 260.1,117.9 261,119.4" fill="#a9a9a9"/>
<polyline points="242.5,116.5 242.8,111.6 243.9,98.4 245.3,83.5 246.6,73.6 247.7,70.3 248.9,71.1 250.2,78.5 251.5,91.8 252.7,105 254,114.9 256,118.2 262,119 294.5,119.2" fill="none" stroke="#000" stroke-width="0.8" stroke-linejoin="round"/>
<line x1="301.3" y1="122.8" x2="303.7" y2="122.1" stroke="#999" stroke-width="0.8"/><line x1="298.5" y1="119.6" x2="300.5" y2="119" stroke="#999" stroke-width="0.8"/><line x1="314.6" y1="122.8" x2="317" y2="122.1" stroke="#999" stroke-width="0.8"/><line x1="298.5" y1="109" x2="300.5" y2="108.4" stroke="#999" stroke-width="0.8"/><line x1="327.9" y1="122.8" x2="330.3" y2="122.1" stroke="#999" stroke-width="0.8"/><line x1="298.5" y1="98.3" x2="300.5" y2="97.7" stroke="#999" stroke-width="0.8"/><line x1="341.3" y1="122.8" x2="343.7" y2="122.1" stroke="#999" stroke-width="0.8"/><line x1="298.5" y1="87.7" x2="300.5" y2="87.1" stroke="#999" stroke-width="0.8"/><line x1="354.6" y1="122.8" x2="357" y2="122.1" stroke="#999" stroke-width="0.8"/><line x1="298.5" y1="77" x2="300.5" y2="76.4" stroke="#999" stroke-width="0.8"/>
<rect x="302.5" y="66.4" width="53.3" height="53.2" fill="#fff" stroke="#b4b4b4" stroke-width="0.8"/>
<polygon points="302.6,119.4 302.6,104.1 304,104.1 304,119" fill="#a9a9a9"/>
<polygon points="307.9,119.4 307.9,117.4 310.4,111.6 312.9,104.1 315.4,100 317,95 318.7,86.8 320.3,78.5 322,71.1 323.1,75.2 324.4,85.1 326.1,96.7 327.8,106.6 329.7,114.1 331.9,118.2 332.5,119.4" fill="#a9a9a9"/>
<polyline points="303.5,115.7 304.3,110 305.4,95 306.6,81.8 307.9,73.6 309.6,70.3 310.9,71.9 312,78.5 313.2,91.8 314.5,105 315.9,114.9 317.8,118.2 324,119 356.5,119.2" fill="none" stroke="#000" stroke-width="0.8" stroke-linejoin="round"/>
<line x1="362.9" y1="122.8" x2="365.3" y2="122.1" stroke="#999" stroke-width="0.8"/><line x1="360.1" y1="119.6" x2="362.1" y2="119" stroke="#999" stroke-width="0.8"/><line x1="376.2" y1="122.8" x2="378.6" y2="122.1" stroke="#999" stroke-width="0.8"/><line x1="360.1" y1="109" x2="362.1" y2="108.4" stroke="#999" stroke-width="0.8"/><line x1="389.6" y1="122.8" x2="391.9" y2="122.1" stroke="#999" stroke-width="0.8"/><line x1="360.1" y1="98.3" x2="362.1" y2="97.7" stroke="#999" stroke-width="0.8"/><line x1="402.9" y1="122.8" x2="405.3" y2="122.1" stroke="#999" stroke-width="0.8"/><line x1="360.1" y1="87.7" x2="362.1" y2="87.1" stroke="#999" stroke-width="0.8"/><line x1="416.2" y1="122.8" x2="418.6" y2="122.1" stroke="#999" stroke-width="0.8"/><line x1="360.1" y1="77" x2="362.1" y2="76.4" stroke="#999" stroke-width="0.8"/>
<rect x="364.1" y="66.4" width="53.3" height="53.2" fill="#fff" stroke="#b4b4b4" stroke-width="0.8"/>
<polygon points="364.1,119.4 364.1,104.1 365.2,104.1 365.5,116.5 366.6,105 368.3,93.4 369.6,88.4 370.7,91.8 371.9,101.7 373.2,111.6 374.5,116.5 379,117.4 381.5,116.5 384,115.7 385.6,117.4 387.3,118.7 388,119.4" fill="#a9a9a9"/>
<polyline points="364.6,104.3 364.6,119 365,114.9 365.8,106.6 366.9,91.8 368.3,78.5 369.6,71.9 370.7,70.3 371.9,71.9 373.2,80.2 374.5,95 375.7,108.3 377,115.7 379,118.5 417,119.2" fill="none" stroke="#000" stroke-width="0.8" stroke-linejoin="round"/>
<line x1="423.8" y1="122.8" x2="426.2" y2="122.1" stroke="#999" stroke-width="0.8"/><line x1="421" y1="119.6" x2="423" y2="119" stroke="#999" stroke-width="0.8"/><line x1="437.1" y1="122.8" x2="439.5" y2="122.1" stroke="#999" stroke-width="0.8"/><line x1="421" y1="109" x2="423" y2="108.4" stroke="#999" stroke-width="0.8"/><line x1="450.4" y1="122.8" x2="452.8" y2="122.1" stroke="#999" stroke-width="0.8"/><line x1="421" y1="98.3" x2="423" y2="97.7" stroke="#999" stroke-width="0.8"/><line x1="463.8" y1="122.8" x2="466.2" y2="122.1" stroke="#999" stroke-width="0.8"/><line x1="421" y1="87.7" x2="423" y2="87.1" stroke="#999" stroke-width="0.8"/><line x1="477.1" y1="122.8" x2="479.5" y2="122.1" stroke="#999" stroke-width="0.8"/><line x1="421" y1="77" x2="423" y2="76.4" stroke="#999" stroke-width="0.8"/>
<rect x="425" y="66.4" width="53.3" height="53.2" fill="#fff" stroke="#b4b4b4" stroke-width="0.8"/>
<polygon points="424.6,119.4 424.6,93.5 425.5,93.5 426,116.6 427,98.4 428.3,83.5 429.6,73.6 430.8,70.3 431.9,73.6 433.2,86.8 434.6,103.4 435.9,113.3 437.4,118.3 444.8,117.5 447.3,115.3 449.8,115.8 452.3,114.2 454.8,115.3 457.3,116.6 459.7,118.6 460.5,119.4" fill="#a9a9a9"/>
<polyline points="425,93.5 425,112 425.5,111.7 426.3,105 427.5,91.8 428.6,78.6 429.9,71.1 431.1,69.5 432.3,71.9 433.2,81.9 434.6,98.4 435.7,110 437.4,116.6 439.5,118.6 478,119.2" fill="none" stroke="#000" stroke-width="0.8" stroke-linejoin="round"/>
<text x="487" y="34.8" font-size="11.8" font-weight="bold" text-anchor="start" fill="#000" >hESC</text>
<text x="486.1" y="96.9" font-size="11.8" font-weight="bold" text-anchor="start" fill="#000" >UCB</text>
<text x="126.3" y="137.6" font-size="12" font-weight="bold" text-anchor="start" fill="#000" >CD16</text>
<text x="188.1" y="137.6" font-size="12" font-weight="bold" text-anchor="start" fill="#000" >CD94</text>
<text x="243.8" y="137.6" font-size="12" font-weight="bold" text-anchor="start" fill="#000" >NKG2D</text>
<text x="309.2" y="137.6" font-size="12" font-weight="bold" text-anchor="start" fill="#000" >NKp46</text>
<text x="365.1" y="138.3" font-size="12" font-weight="bold" text-anchor="start" fill="#000" >CD158a</text>
<text x="366.9" y="152.2" font-size="12" font-weight="bold" text-anchor="start" fill="#000" >CD158i</text>
<text x="428.8" y="138.3" font-size="12" font-weight="bold" text-anchor="start" fill="#000" >CD158b</text>
<text x="425.3" y="152.2" font-size="12" font-weight="bold" text-anchor="start" fill="#000" >CD158e1</text>
<line x1="51" y1="175.9" x2="51" y2="245.6" stroke="#111" stroke-width="1.4"/><line x1="50.3" y1="245.6" x2="156.7" y2="245.6" stroke="#111" stroke-width="1.4"/><line x1="48.6" y1="245.6" x2="51" y2="245.6" stroke="#111" stroke-width="1.2"/><line x1="48.6" y1="231.7" x2="51" y2="231.7" stroke="#111" stroke-width="1.2"/><line x1="48.6" y1="217.8" x2="51" y2="217.8" stroke="#111" stroke-width="1.2"/><line x1="48.6" y1="204" x2="51" y2="204" stroke="#111" stroke-width="1.2"/><line x1="48.6" y1="190.1" x2="51" y2="190.1" stroke="#111" stroke-width="1.2"/><line x1="48.6" y1="176.2" x2="51" y2="176.2" stroke="#111" stroke-width="1.2"/><line x1="72.4" y1="245.6" x2="72.4" y2="247.4" stroke="#222" stroke-width="1"/><line x1="106.1" y1="245.6" x2="106.1" y2="247.4" stroke="#222" stroke-width="1"/><line x1="142.3" y1="245.6" x2="142.3" y2="247.4" stroke="#222" stroke-width="1"/>
<text x="48.3" y="248.6" font-size="8.5" font-weight="normal" text-anchor="end" fill="#111" stroke="#111" stroke-width="0.4">0</text>
<text x="48.3" y="234.7" font-size="8.5" font-weight="normal" text-anchor="end" fill="#111" stroke="#111" stroke-width="0.4">20</text>
<text x="48.3" y="220.8" font-size="8.5" font-weight="normal" text-anchor="end" fill="#111" stroke="#111" stroke-width="0.4">40</text>
<text x="48.3" y="207" font-size="8.5" font-weight="normal" text-anchor="end" fill="#111" stroke="#111" stroke-width="0.4">60</text>
<text x="48.3" y="193.1" font-size="8.5" font-weight="normal" text-anchor="end" fill="#111" stroke="#111" stroke-width="0.4">80</text>
<text x="48.3" y="179.2" font-size="8.5" font-weight="normal" text-anchor="end" fill="#111" stroke="#111" stroke-width="0.4">100</text>
<text x="72.4" y="255.5" font-size="8.5" font-weight="normal" text-anchor="middle" fill="#111" stroke="#111" stroke-width="0.4">10:1</text>
<text x="106.1" y="255.5" font-size="8.5" font-weight="normal" text-anchor="middle" fill="#111" stroke="#111" stroke-width="0.4">5:1</text>
<text x="142.3" y="255.5" font-size="8.5" font-weight="normal" text-anchor="middle" fill="#111" stroke="#111" stroke-width="0.4">2.5:1</text>
<polyline points="68.4,192.5 103.1,197.5 138.2,207.2" fill="none" stroke="#222" stroke-width="1.1"/>
<polyline points="68.4,205.5 103.1,213.2 138.2,222.7" fill="none" stroke="#222" stroke-width="1.1"/>
<path d="M68.4 190.8V194.2M66 190.8h4.8M66 194.2h4.8M103.1 195.4V199.6M100.7 195.4h4.8M100.7 199.6h4.8M138.2 202.8V211.6M135.8 202.8h4.8M135.8 211.6h4.8M68.4 201.8V209.2M66 201.8h4.8M66 209.2h4.8M103.1 209.2V217.2M100.7 209.2h4.8M100.7 217.2h4.8M138.2 218.4V227M135.8 218.4h4.8M135.8 227h4.8" stroke="#222" stroke-width="1" fill="none"/>
<rect x="65.9" y="190.2" width="5" height="4.6" fill="#000"/><rect x="100.6" y="195.2" width="5" height="4.6" fill="#000"/><rect x="135.7" y="204.9" width="5" height="4.6" fill="#000"/><polygon points="68.4,202.6 65.7,207.7 71.1,207.7" fill="#000"/><polygon points="103.1,210.3 100.4,215.4 105.8,215.4" fill="#000"/><polygon points="138.2,219.8 135.5,224.9 140.9,224.9" fill="#000"/><circle cx="69" cy="184.7" r="1.3" fill="#000"/><circle cx="103.7" cy="189.9" r="1.3" fill="#000"/><circle cx="138.8" cy="197.3" r="1.3" fill="#000"/>
<text x="91.6" y="178.6" font-size="9.9" font-weight="bold" text-anchor="start" fill="#000" >K562</text>
<text x="0" y="0" font-size="9.8" font-weight="bold" text-anchor="start" fill="#000" transform="translate(30.8,247.8) rotate(-90)">% Specific Lysis</text>
<line x1="178.4" y1="174.5" x2="178.4" y2="244.1" stroke="#111" stroke-width="1.4"/><line x1="177.7" y1="244.1" x2="285.2" y2="244.1" stroke="#111" stroke-width="1.4"/><line x1="176" y1="244.1" x2="178.4" y2="244.1" stroke="#111" stroke-width="1.2"/><line x1="176" y1="230.2" x2="178.4" y2="230.2" stroke="#111" stroke-width="1.2"/><line x1="176" y1="216.4" x2="178.4" y2="216.4" stroke="#111" stroke-width="1.2"/><line x1="176" y1="202.5" x2="178.4" y2="202.5" stroke="#111" stroke-width="1.2"/><line x1="176" y1="188.7" x2="178.4" y2="188.7" stroke="#111" stroke-width="1.2"/><line x1="176" y1="174.8" x2="178.4" y2="174.8" stroke="#111" stroke-width="1.2"/><line x1="201.8" y1="244.1" x2="201.8" y2="245.9" stroke="#222" stroke-width="1"/><line x1="235.5" y1="244.1" x2="235.5" y2="245.9" stroke="#222" stroke-width="1"/><line x1="271.9" y1="244.1" x2="271.9" y2="245.9" stroke="#222" stroke-width="1"/>
<text x="175.7" y="247.1" font-size="8.5" font-weight="normal" text-anchor="end" fill="#111" stroke="#111" stroke-width="0.4">0</text>
<text x="175.7" y="233.2" font-size="8.5" font-weight="normal" text-anchor="end" fill="#111" stroke="#111" stroke-width="0.4">20</text>
<text x="175.7" y="219.4" font-size="8.5" font-weight="normal" text-anchor="end" fill="#111" stroke="#111" stroke-width="0.4">40</text>
<text x="175.7" y="205.5" font-size="8.5" font-weight="normal" text-anchor="end" fill="#111" stroke="#111" stroke-width="0.4">60</text>
<text x="175.7" y="191.7" font-size="8.5" font-weight="normal" text-anchor="end" fill="#111" stroke="#111" stroke-width="0.4">80</text>
<text x="175.7" y="177.8" font-size="8.5" font-weight="normal" text-anchor="end" fill="#111" stroke="#111" stroke-width="0.4">100</text>
<text x="201.8" y="254" font-size="8.5" font-weight="normal" text-anchor="middle" fill="#111" stroke="#111" stroke-width="0.4">10:1</text>
<text x="235.5" y="254" font-size="8.5" font-weight="normal" text-anchor="middle" fill="#111" stroke="#111" stroke-width="0.4">5:1</text>
<text x="271.9" y="254" font-size="8.5" font-weight="normal" text-anchor="middle" fill="#111" stroke="#111" stroke-width="0.4">2.5:1</text>
<polyline points="197.9,199.5 232.7,210.2 267.3,220.9" fill="none" stroke="#222" stroke-width="1.1"/>
<polyline points="197.9,215.6 232.7,225.3 267.3,231.7" fill="none" stroke="#222" stroke-width="1.1"/>
<path d="M197.9 194.7V204.3M195.5 194.7h4.8M195.5 204.3h4.8M232.7 205.7V214.7M230.3 205.7h4.8M230.3 214.7h4.8M267.3 218.8V223M264.9 218.8h4.8M264.9 223h4.8M232.7 223.2V227.4M230.3 223.2h4.8M230.3 227.4h4.8" stroke="#222" stroke-width="1" fill="none"/>
<rect x="195.4" y="197.2" width="5" height="4.6" fill="#000"/><rect x="230.2" y="207.9" width="5" height="4.6" fill="#000"/><rect x="264.8" y="218.6" width="5" height="4.6" fill="#000"/><polygon points="197.9,212.7 195.2,217.8 200.6,217.8" fill="#000"/><polygon points="232.7,222.4 230,227.5 235.4,227.5" fill="#000"/><polygon points="267.3,228.8 264.6,233.9 270,233.9" fill="#000"/><circle cx="198.3" cy="188.4" r="1.3" fill="#000"/><circle cx="233.1" cy="198.5" r="1.3" fill="#000"/>
<text x="219.2" y="178.9" font-size="9.9" font-weight="bold" text-anchor="start" fill="#000" >MCF7</text>
<line x1="313.9" y1="172.2" x2="313.9" y2="242.3" stroke="#111" stroke-width="1.4"/><line x1="313.2" y1="242.3" x2="419.2" y2="242.3" stroke="#111" stroke-width="1.4"/><line x1="311.5" y1="242.3" x2="313.9" y2="242.3" stroke="#111" stroke-width="1.2"/><line x1="311.5" y1="228.3" x2="313.9" y2="228.3" stroke="#111" stroke-width="1.2"/><line x1="311.5" y1="214.4" x2="313.9" y2="214.4" stroke="#111" stroke-width="1.2"/><line x1="311.5" y1="200.4" x2="313.9" y2="200.4" stroke="#111" stroke-width="1.2"/><line x1="311.5" y1="186.5" x2="313.9" y2="186.5" stroke="#111" stroke-width="1.2"/><line x1="311.5" y1="172.5" x2="313.9" y2="172.5" stroke="#111" stroke-width="1.2"/><line x1="334.8" y1="242.3" x2="334.8" y2="244.1" stroke="#222" stroke-width="1"/><line x1="369.6" y1="242.3" x2="369.6" y2="244.1" stroke="#222" stroke-width="1"/><line x1="405.6" y1="242.3" x2="405.6" y2="244.1" stroke="#222" stroke-width="1"/>
<text x="311.2" y="245.3" font-size="8.5" font-weight="normal" text-anchor="end" fill="#111" stroke="#111" stroke-width="0.4">0</text>
<text x="311.2" y="231.3" font-size="8.5" font-weight="normal" text-anchor="end" fill="#111" stroke="#111" stroke-width="0.4">20</text>
<text x="311.2" y="217.4" font-size="8.5" font-weight="normal" text-anchor="end" fill="#111" stroke="#111" stroke-width="0.4">40</text>
<text x="311.2" y="203.4" font-size="8.5" font-weight="normal" text-anchor="end" fill="#111" stroke="#111" stroke-width="0.4">60</text>
<text x="311.2" y="189.5" font-size="8.5" font-weight="normal" text-anchor="end" fill="#111" stroke="#111" stroke-width="0.4">80</text>
<text x="311.2" y="175.5" font-size="8.5" font-weight="normal" text-anchor="end" fill="#111" stroke="#111" stroke-width="0.4">100</text>
<text x="334.8" y="252.2" font-size="8.5" font-weight="normal" text-anchor="middle" fill="#111" stroke="#111" stroke-width="0.4">10:1</text>
<text x="369.6" y="252.2" font-size="8.5" font-weight="normal" text-anchor="middle" fill="#111" stroke="#111" stroke-width="0.4">5:1</text>
<text x="405.6" y="252.2" font-size="8.5" font-weight="normal" text-anchor="middle" fill="#111" stroke="#111" stroke-width="0.4">2.5:1</text>
<polyline points="331.5,202.9 366.4,212.6 401.3,221.5" fill="none" stroke="#222" stroke-width="1.1"/>
<polyline points="331.5,223.9 366.4,230.1 401.3,234.3" fill="none" stroke="#222" stroke-width="1.1"/>
<path d="M331.5 198V207.8M329.1 198h4.8M329.1 207.8h4.8M366.4 208.4V216.8M364 208.4h4.8M364 216.8h4.8M401.3 217.7V225.3M398.9 217.7h4.8M398.9 225.3h4.8M331.5 219.1V228.8M329.1 219.1h4.8M329.1 228.8h4.8M366.4 226V234.2M364 226h4.8M364 234.2h4.8M401.3 232V236.6M398.9 232h4.8M398.9 236.6h4.8" stroke="#222" stroke-width="1" fill="none"/>
<rect x="329" y="200.6" width="5" height="4.6" fill="#000"/><rect x="363.9" y="210.3" width="5" height="4.6" fill="#000"/><rect x="398.8" y="219.2" width="5" height="4.6" fill="#000"/><polygon points="331.5,221 328.8,226.1 334.2,226.1" fill="#000"/><polygon points="366.4,227.2 363.7,232.3 369.1,232.3" fill="#000"/><polygon points="401.3,231.4 398.6,236.5 404,236.5" fill="#000"/><circle cx="331.9" cy="191" r="1.3" fill="#000"/><circle cx="366.8" cy="201.7" r="1.3" fill="#000"/>
<text x="357" y="175.6" font-size="9.9" font-weight="bold" text-anchor="start" fill="#000" >PC3</text>
<line x1="51.5" y1="269.1" x2="51.5" y2="338.3" stroke="#111" stroke-width="1.4"/><line x1="50.8" y1="338.3" x2="158" y2="338.3" stroke="#111" stroke-width="1.4"/><line x1="49.1" y1="338.3" x2="51.5" y2="338.3" stroke="#111" stroke-width="1.2"/><line x1="49.1" y1="324.5" x2="51.5" y2="324.5" stroke="#111" stroke-width="1.2"/><line x1="49.1" y1="310.7" x2="51.5" y2="310.7" stroke="#111" stroke-width="1.2"/><line x1="49.1" y1="297" x2="51.5" y2="297" stroke="#111" stroke-width="1.2"/><line x1="49.1" y1="283.2" x2="51.5" y2="283.2" stroke="#111" stroke-width="1.2"/><line x1="49.1" y1="269.4" x2="51.5" y2="269.4" stroke="#111" stroke-width="1.2"/><line x1="73.5" y1="338.3" x2="73.5" y2="340.1" stroke="#222" stroke-width="1"/><line x1="107.6" y1="338.3" x2="107.6" y2="340.1" stroke="#222" stroke-width="1"/><line x1="144.3" y1="338.3" x2="144.3" y2="340.1" stroke="#222" stroke-width="1"/>
<text x="48.8" y="341.3" font-size="8.5" font-weight="normal" text-anchor="end" fill="#111" stroke="#111" stroke-width="0.4">0</text>
<text x="48.8" y="327.5" font-size="8.5" font-weight="normal" text-anchor="end" fill="#111" stroke="#111" stroke-width="0.4">20</text>
<text x="48.8" y="313.7" font-size="8.5" font-weight="normal" text-anchor="end" fill="#111" stroke="#111" stroke-width="0.4">40</text>
<text x="48.8" y="300" font-size="8.5" font-weight="normal" text-anchor="end" fill="#111" stroke="#111" stroke-width="0.4">60</text>
<text x="48.8" y="286.2" font-size="8.5" font-weight="normal" text-anchor="end" fill="#111" stroke="#111" stroke-width="0.4">80</text>
<text x="48.8" y="272.4" font-size="8.5" font-weight="normal" text-anchor="end" fill="#111" stroke="#111" stroke-width="0.4">100</text>
<text x="73.5" y="348.2" font-size="8.5" font-weight="normal" text-anchor="middle" fill="#111" stroke="#111" stroke-width="0.4">10:1</text>
<text x="107.6" y="348.2" font-size="8.5" font-weight="normal" text-anchor="middle" fill="#111" stroke="#111" stroke-width="0.4">5:1</text>
<text x="144.3" y="348.2" font-size="8.5" font-weight="normal" text-anchor="middle" fill="#111" stroke="#111" stroke-width="0.4">2.5:1</text>
<polyline points="69.9,317 104.9,321.7 140,330" fill="none" stroke="#222" stroke-width="1.1"/>
<polyline points="69.9,324.1 104.9,328 140,333.2" fill="none" stroke="#222" stroke-width="1.1"/>
<path d="M69.9 315.3V318.7M67.5 315.3h4.8M67.5 318.7h4.8M104.9 320.3V323.1M102.5 320.3h4.8M102.5 323.1h4.8M140 328.3V331.8M137.6 328.3h4.8M137.6 331.8h4.8M69.9 320V328.2M67.5 320h4.8M67.5 328.2h4.8M104.9 324V331.9M102.5 324h4.8M102.5 331.9h4.8M140 331.8V334.6M137.6 331.8h4.8M137.6 334.6h4.8" stroke="#222" stroke-width="1" fill="none"/>
<rect x="67.4" y="314.7" width="5" height="4.6" fill="#000"/><rect x="102.4" y="319.4" width="5" height="4.6" fill="#000"/><rect x="137.5" y="327.7" width="5" height="4.6" fill="#000"/><polygon points="69.9,321.2 67.2,326.3 72.6,326.3" fill="#000"/><polygon points="104.9,325.1 102.2,330.2 107.6,330.2" fill="#000"/><polygon points="140,330.3 137.3,335.4 142.7,335.4" fill="#000"/>
<text x="85.4" y="271.9" font-size="9.9" font-weight="bold" text-anchor="start" fill="#000" >NTERA2</text>
<text x="0" y="0" font-size="9.8" font-weight="bold" text-anchor="start" fill="#000" transform="translate(30.6,342.6) rotate(-90)">% Specific Lysis</text>
<text x="85.2" y="361.5" font-size="10" font-weight="bold" text-anchor="start" fill="#000" >E:T ratio</text>
<line x1="181.6" y1="267.4" x2="181.6" y2="337.1" stroke="#111" stroke-width="1.4"/><line x1="180.9" y1="337.1" x2="287" y2="337.1" stroke="#111" stroke-width="1.4"/><line x1="179.2" y1="337.1" x2="181.6" y2="337.1" stroke="#111" stroke-width="1.2"/><line x1="179.2" y1="323.2" x2="181.6" y2="323.2" stroke="#111" stroke-width="1.2"/><line x1="179.2" y1="309.3" x2="181.6" y2="309.3" stroke="#111" stroke-width="1.2"/><line x1="179.2" y1="295.5" x2="181.6" y2="295.5" stroke="#111" stroke-width="1.2"/><line x1="179.2" y1="281.6" x2="181.6" y2="281.6" stroke="#111" stroke-width="1.2"/><line x1="179.2" y1="267.7" x2="181.6" y2="267.7" stroke="#111" stroke-width="1.2"/><line x1="203.5" y1="337.1" x2="203.5" y2="338.9" stroke="#222" stroke-width="1"/><line x1="237.1" y1="337.1" x2="237.1" y2="338.9" stroke="#222" stroke-width="1"/><line x1="273.6" y1="337.1" x2="273.6" y2="338.9" stroke="#222" stroke-width="1"/>
<text x="178.9" y="340.1" font-size="8.5" font-weight="normal" text-anchor="end" fill="#111" stroke="#111" stroke-width="0.4">0</text>
<text x="178.9" y="326.2" font-size="8.5" font-weight="normal" text-anchor="end" fill="#111" stroke="#111" stroke-width="0.4">20</text>
<text x="178.9" y="312.3" font-size="8.5" font-weight="normal" text-anchor="end" fill="#111" stroke="#111" stroke-width="0.4">40</text>
<text x="178.9" y="298.5" font-size="8.5" font-weight="normal" text-anchor="end" fill="#111" stroke="#111" stroke-width="0.4">60</text>
<text x="178.9" y="284.6" font-size="8.5" font-weight="normal" text-anchor="end" fill="#111" stroke="#111" stroke-width="0.4">80</text>
<text x="178.9" y="270.7" font-size="8.5" font-weight="normal" text-anchor="end" fill="#111" stroke="#111" stroke-width="0.4">100</text>
<text x="203.5" y="347" font-size="8.5" font-weight="normal" text-anchor="middle" fill="#111" stroke="#111" stroke-width="0.4">10:1</text>
<text x="237.1" y="347" font-size="8.5" font-weight="normal" text-anchor="middle" fill="#111" stroke="#111" stroke-width="0.4">5:1</text>
<text x="273.6" y="347" font-size="8.5" font-weight="normal" text-anchor="middle" fill="#111" stroke="#111" stroke-width="0.4">2.5:1</text>
<polyline points="199.4,318.9 234.5,323.3 268.9,327.9" fill="none" stroke="#222" stroke-width="1.1"/>
<polyline points="199.4,331.4 234.5,335.8 268.9,335.1" fill="none" stroke="#222" stroke-width="1.1"/>
<path d="M199.4 313.4V324.4M197 313.4h4.8M197 324.4h4.8M234.5 317.4V329.2M232.1 317.4h4.8M232.1 329.2h4.8M268.9 324.6V331.1M266.5 324.6h4.8M266.5 331.1h4.8M199.4 328.3V334.5M197 328.3h4.8M197 334.5h4.8" stroke="#222" stroke-width="1" fill="none"/>
<rect x="196.9" y="316.6" width="5" height="4.6" fill="#000"/><rect x="232" y="321" width="5" height="4.6" fill="#000"/><rect x="266.4" y="325.6" width="5" height="4.6" fill="#000"/><polygon points="199.4,328.5 196.7,333.6 202.1,333.6" fill="#000"/><polygon points="234.5,332.9 231.8,338 237.2,338" fill="#000"/><polygon points="268.9,332.2 266.2,337.3 271.6,337.3" fill="#000"/>
<text x="224.7" y="271.8" font-size="9.9" font-weight="bold" text-anchor="start" fill="#000" >U87</text>
<text x="214.5" y="361.3" font-size="10" font-weight="bold" text-anchor="start" fill="#000" >E:T ratio</text>
</svg>
</body></html>
